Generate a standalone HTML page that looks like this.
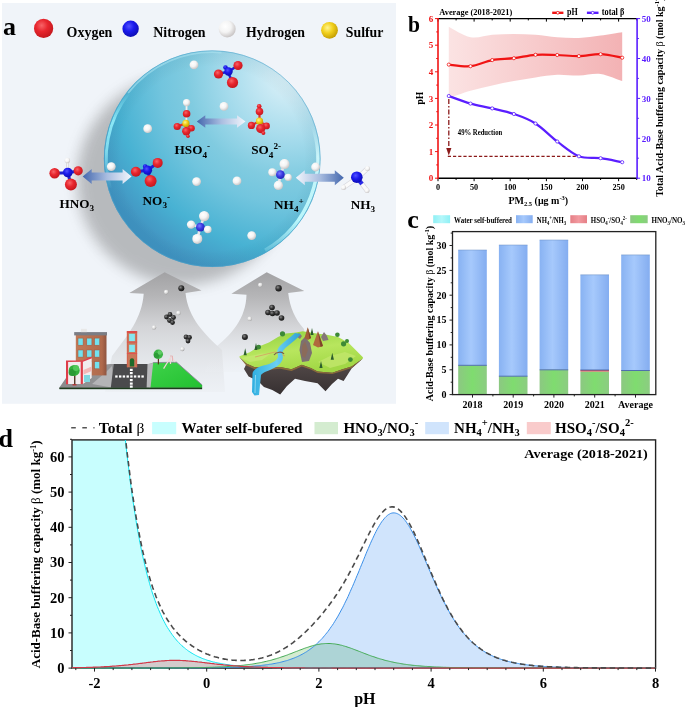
<!DOCTYPE html>
<html><head><meta charset="utf-8"><style>
html,body{margin:0;padding:0;background:#fff;width:685px;height:707px;overflow:hidden}
svg{display:block;will-change:transform}
</style></head><body>
<svg width="685" height="707" viewBox="0 0 685 707">
<defs>
<radialGradient id="gR" cx="0.4" cy="0.35" r="0.7"><stop offset="0" stop-color="#f86468"/><stop offset="0.45" stop-color="#e8262e"/><stop offset="1" stop-color="#c0161c"/></radialGradient>
<radialGradient id="gB" cx="0.4" cy="0.35" r="0.7"><stop offset="0" stop-color="#5252ff"/><stop offset="0.45" stop-color="#1a1aec"/><stop offset="1" stop-color="#0c0cae"/></radialGradient>
<radialGradient id="gB2" cx="0.4" cy="0.35" r="0.7"><stop offset="0" stop-color="#7a7aff"/><stop offset="0.5" stop-color="#3a3ae0"/><stop offset="1" stop-color="#2020b0"/></radialGradient>
<radialGradient id="gW" cx="0.38" cy="0.35" r="0.7"><stop offset="0" stop-color="#ffffff"/><stop offset="0.5" stop-color="#f4f4f4"/><stop offset="1" stop-color="#c4c0c0"/></radialGradient>
<radialGradient id="gY" cx="0.38" cy="0.35" r="0.7"><stop offset="0" stop-color="#fff590"/><stop offset="0.45" stop-color="#f2d11e"/><stop offset="1" stop-color="#c09a00"/></radialGradient>
<radialGradient id="gK" cx="0.38" cy="0.35" r="0.7"><stop offset="0" stop-color="#888"/><stop offset="0.5" stop-color="#333"/><stop offset="1" stop-color="#111"/></radialGradient>
<radialGradient id="gG" cx="0.38" cy="0.35" r="0.7"><stop offset="0" stop-color="#fff"/><stop offset="0.6" stop-color="#d8d8d8"/><stop offset="1" stop-color="#999"/></radialGradient>
<radialGradient id="sph" gradientUnits="userSpaceOnUse" cx="290" cy="75" r="215"><stop offset="0" stop-color="#dcf2f8"/><stop offset="0.1" stop-color="#cdebf5"/><stop offset="0.3" stop-color="#a5dbec"/><stop offset="0.48" stop-color="#80cbe0"/><stop offset="0.6" stop-color="#72c5de"/><stop offset="0.82" stop-color="#48b2d3"/><stop offset="0.97" stop-color="#4398c4"/><stop offset="1" stop-color="#4094c2"/></radialGradient>
<radialGradient id="sphs" cx="0.5" cy="0.5" r="0.5"><stop offset="0.85" stop-color="#000" stop-opacity="0"/><stop offset="1" stop-color="#0a4a70" stop-opacity="0.06"/></radialGradient>
<linearGradient id="arrL" x1="0" x2="1"><stop offset="0" stop-color="#4467ad"/><stop offset="0.5" stop-color="#a9bde0"/><stop offset="1" stop-color="#f2f6fc"/></linearGradient>
<linearGradient id="arrR" x1="0" x2="1"><stop offset="0" stop-color="#f2f6fc"/><stop offset="0.5" stop-color="#a9bde0"/><stop offset="1" stop-color="#4467ad"/></linearGradient>
<linearGradient id="gray" x1="0" y1="0" x2="0" y2="1"><stop offset="0" stop-color="#a2a2a4"/><stop offset="0.2" stop-color="#b5b5b7"/><stop offset="0.45" stop-color="#d3d4d7"/><stop offset="1" stop-color="#eaedf1" stop-opacity="0.5"/></linearGradient>
<linearGradient id="rimL" gradientUnits="userSpaceOnUse" x1="0" y1="92" x2="0" y2="190"><stop offset="0" stop-color="#8eeaf8" stop-opacity="0"/><stop offset="0.3" stop-color="#8eeaf8" stop-opacity="0.95"/><stop offset="0.6" stop-color="#8eeaf8" stop-opacity="0.8"/><stop offset="1" stop-color="#8eeaf8" stop-opacity="0"/></linearGradient>
<linearGradient id="rimR" gradientUnits="userSpaceOnUse" x1="0" y1="125" x2="0" y2="252"><stop offset="0" stop-color="#d2fafd" stop-opacity="0"/><stop offset="0.25" stop-color="#d2fafd" stop-opacity="0.9"/><stop offset="0.75" stop-color="#b8f6fb" stop-opacity="1"/><stop offset="1" stop-color="#b8f6fb" stop-opacity="0.2"/></linearGradient>
<filter id="blur12" x="-50%" y="-50%" width="200%" height="200%"><feGaussianBlur stdDeviation="11"/></filter>
<filter id="blur7" x="-50%" y="-50%" width="200%" height="200%"><feGaussianBlur stdDeviation="7"/></filter>
<linearGradient id="gray2" gradientUnits="userSpaceOnUse" x1="0" y1="272" x2="0" y2="372"><stop offset="0" stop-color="#a2a2a4"/><stop offset="0.24" stop-color="#b5b5b7"/><stop offset="0.54" stop-color="#d3d4d7"/><stop offset="1" stop-color="#eaedf1" stop-opacity="0.3"/></linearGradient>
<filter id="blur6" x="-50%" y="-50%" width="200%" height="200%"><feGaussianBlur stdDeviation="9"/></filter>
<filter id="blur1" x="-20%" y="-20%" width="140%" height="140%"><feGaussianBlur stdDeviation="0.6"/></filter>
<clipPath id="aclip"><rect x="2" y="3" width="394" height="400.8"/></clipPath>
</defs>
<rect x="2" y="3" width="394" height="400.8" fill="#f0f4f9"/>
<g clip-path="url(#aclip)">
<ellipse cx="183" cy="180" rx="106" ry="105" fill="#555" opacity="0.36" filter="url(#blur7)"/>
<path d="M164.6,272.2 L201.5,290.5 L185.5,293.1 C188,318 205,335 222,350 L225,392 L105,392 L112,356 C128,335 142,318 143.7,293.7 L129.3,293.1 Z" fill="url(#gray)"/>
<path d="M266.7,272.2 L304.3,291.1 L288.2,293.1 C290,308 295,319 304,329 L312,372 L205,372 L212,350 C232,335 246,318 246.5,294.7 L231.4,293.7 Z" fill="url(#gray2)"/>
<circle cx="212.2" cy="158.7" r="108.3" fill="url(#sph)"/>
<circle cx="212.2" cy="158.7" r="108.3" fill="url(#sphs)"/>
<path d="M110.3,187.9 A106.0,106.0 0 0 1 128.7,93.4" fill="none" stroke="url(#rimL)" stroke-width="3"/><path d="M128.1,93.0 A106.7,106.7 0 0 1 221.5,52.4" fill="none" stroke="#aee6f3" stroke-width="2" opacity="0.55"/>
<path d="M312.7,126.0 A105.7,105.7 0 0 1 265.1,250.2" fill="none" stroke="url(#rimR)" stroke-width="3.6"/>
<circle cx="212.2" cy="158.7" r="107.9" fill="none" stroke="#4fa6cc" stroke-width="0.8" opacity="0.7"/>
<text x="3.1" y="35" font-family="Liberation Serif" font-weight="bold" font-size="26">a</text>
<circle cx="43.6" cy="28.4" r="9.6" fill="url(#gR)"/>
<text x="66.6" y="36.8" font-family="Liberation Serif" font-weight="bold" font-size="13.7" textLength="45.8" lengthAdjust="spacingAndGlyphs">Oxygen</text>
<circle cx="130.6" cy="28.7" r="8.2" fill="url(#gB)"/>
<text x="153.3" y="36.8" font-family="Liberation Serif" font-weight="bold" font-size="13.7" textLength="52.3" lengthAdjust="spacingAndGlyphs">Nitrogen</text>
<circle cx="227.2" cy="28.9" r="8.5" fill="url(#gW)"/>
<text x="246.1" y="36.8" font-family="Liberation Serif" font-weight="bold" font-size="13.7" textLength="58.9" lengthAdjust="spacingAndGlyphs">Hydrogen</text>
<circle cx="329.5" cy="30.3" r="8.4" fill="url(#gY)"/>
<text x="345.8" y="36.8" font-family="Liberation Serif" font-weight="bold" font-size="13.7" textLength="37.6" lengthAdjust="spacingAndGlyphs">Sulfur</text>
<circle cx="194.0" cy="64.8" r="4.4" fill="url(#gW)"/>
<circle cx="224.0" cy="106.4" r="4.4" fill="url(#gW)"/>
<circle cx="147.7" cy="128.7" r="4.4" fill="url(#gW)"/>
<circle cx="111.3" cy="166.6" r="4.4" fill="url(#gW)"/>
<circle cx="196.6" cy="181.6" r="4.4" fill="url(#gW)"/>
<circle cx="237.0" cy="180.9" r="4.4" fill="url(#gW)"/>
<circle cx="251.7" cy="235.6" r="4.4" fill="url(#gW)"/>
<circle cx="315.6" cy="167.0" r="4.4" fill="url(#gW)"/>
<line x1="228.0" y1="72.0" x2="218.5" y2="73.6" stroke="#2020d0" stroke-width="2.5"/>
<line x1="228.0" y1="72.0" x2="237.8" y2="65.5" stroke="#2020d0" stroke-width="2.5"/>
<line x1="228.0" y1="72.0" x2="232.3" y2="82.0" stroke="#2020d0" stroke-width="2.5"/>
<circle cx="225.5" cy="67.5" r="2.3" fill="url(#gB)"/>
<circle cx="228.5" cy="71.5" r="4.2" fill="url(#gB)"/>
<circle cx="218.5" cy="74.0" r="4.6" fill="url(#gR)"/>
<circle cx="238.0" cy="65.5" r="4.6" fill="url(#gR)"/>
<circle cx="232.5" cy="82.5" r="5.6" fill="url(#gR)"/>
<line x1="186.3" y1="123.4" x2="186.6" y2="103.0" stroke="#f0f0f0" stroke-width="1.8"/>
<line x1="185.9" y1="123.4" x2="177.2" y2="126.5" stroke="#e03030" stroke-width="2.2"/>
<line x1="185.9" y1="123.4" x2="191.5" y2="128.3" stroke="#e03030" stroke-width="2.2"/>
<line x1="185.9" y1="123.4" x2="186.3" y2="131.3" stroke="#e03030" stroke-width="2.2"/>
<circle cx="186.6" cy="102.6" r="3.6" fill="url(#gW)"/>
<circle cx="186.6" cy="113.7" r="3.8" fill="url(#gR)"/>
<circle cx="185.9" cy="123.4" r="3.6" fill="url(#gY)"/>
<circle cx="177.2" cy="126.5" r="3.6" fill="url(#gR)"/>
<circle cx="191.5" cy="128.3" r="3.3" fill="url(#gR)"/>
<circle cx="186.3" cy="131.3" r="4.2" fill="url(#gR)"/>
<circle cx="188.0" cy="136.3" r="1.8" fill="url(#gR)"/>
<line x1="259.5" y1="121.2" x2="259.5" y2="110.0" stroke="#e03030" stroke-width="2.2"/>
<line x1="259.5" y1="121.2" x2="251.4" y2="125.4" stroke="#e03030" stroke-width="2.2"/>
<line x1="259.5" y1="121.2" x2="266.5" y2="125.9" stroke="#e03030" stroke-width="2.2"/>
<line x1="259.5" y1="121.2" x2="260.7" y2="128.6" stroke="#e03030" stroke-width="2.2"/>
<circle cx="259.2" cy="106.3" r="2.3" fill="url(#gR)"/>
<circle cx="259.5" cy="111.5" r="3.8" fill="url(#gR)"/>
<circle cx="259.5" cy="121.2" r="3.6" fill="url(#gY)"/>
<circle cx="251.4" cy="125.4" r="3.6" fill="url(#gR)"/>
<circle cx="266.5" cy="125.9" r="3.4" fill="url(#gR)"/>
<circle cx="260.7" cy="128.6" r="4.6" fill="url(#gR)"/>
<circle cx="263.4" cy="133.0" r="2.0" fill="url(#gR)"/>
<path d="M196.8,121.5 L205.3,115.3 L205.3,118.5 L237.0,118.5 L237.0,115.3 L245.5,121.5 L237.0,127.7 L237.0,124.5 L205.3,124.5 L205.3,127.7 Z" fill="url(#arrL)"/>
<line x1="67.8" y1="172.7" x2="67.4" y2="161.0" stroke="#c8c8cc" stroke-width="2.6"/>
<line x1="67.8" y1="172.7" x2="67.4" y2="161.0" stroke="#f4f4f4" stroke-width="1.6"/>
<circle cx="67.4" cy="160.5" r="2.7" fill="url(#gW)"/>
<line x1="67.8" y1="172.7" x2="54.5" y2="173.3" stroke="#2020d0" stroke-width="3"/>
<line x1="67.8" y1="172.7" x2="78.0" y2="171.0" stroke="#2020d0" stroke-width="3"/>
<line x1="67.8" y1="172.7" x2="70.9" y2="184.6" stroke="#2020d0" stroke-width="3"/>
<circle cx="67.8" cy="172.5" r="4.8" fill="url(#gB)"/>
<circle cx="54.6" cy="173.3" r="5.2" fill="url(#gR)"/>
<circle cx="78.2" cy="170.8" r="4.6" fill="url(#gR)"/>
<circle cx="70.9" cy="184.6" r="6.0" fill="url(#gR)"/>
<path d="M82.7,176.6 L91.7,169.1 L91.7,172.6 L122.6,172.6 L122.6,169.1 L131.6,176.6 L122.6,184.1 L122.6,180.6 L91.7,180.6 L91.7,184.1 Z" fill="url(#arrL)"/>
<line x1="147.5" y1="170.2" x2="135.9" y2="171.7" stroke="#2020d0" stroke-width="3"/>
<line x1="147.5" y1="170.2" x2="157.7" y2="162.9" stroke="#2020d0" stroke-width="3"/>
<line x1="147.5" y1="170.2" x2="150.6" y2="180.9" stroke="#2020d0" stroke-width="3"/>
<circle cx="145.2" cy="166.6" r="2.3" fill="url(#gB)"/>
<circle cx="147.5" cy="170.2" r="4.6" fill="url(#gB)"/>
<circle cx="135.9" cy="171.7" r="5.0" fill="url(#gR)"/>
<circle cx="157.7" cy="162.9" r="5.0" fill="url(#gR)"/>
<circle cx="150.6" cy="180.9" r="6.0" fill="url(#gR)"/>
<line x1="280.4" y1="174.7" x2="284.5" y2="164.1" stroke="#e6e6ea" stroke-width="2.6"/>
<line x1="280.4" y1="174.7" x2="272.3" y2="172.3" stroke="#e6e6ea" stroke-width="2.6"/>
<line x1="280.4" y1="174.7" x2="288.2" y2="177.4" stroke="#e6e6ea" stroke-width="2.6"/>
<line x1="280.4" y1="174.7" x2="278.4" y2="185.4" stroke="#e6e6ea" stroke-width="2.6"/>
<circle cx="284.5" cy="164.1" r="5.0" fill="url(#gW)"/>
<circle cx="272.3" cy="172.3" r="4.0" fill="url(#gW)"/>
<circle cx="280.4" cy="174.7" r="4.4" fill="url(#gB2)"/>
<circle cx="288.2" cy="177.4" r="3.6" fill="url(#gW)"/>
<circle cx="278.4" cy="185.4" r="4.6" fill="url(#gW)"/>
<path d="M295.8,177.8 L304.8,170.3 L304.8,173.8 L334.8,173.8 L334.8,170.3 L343.8,177.8 L334.8,185.3 L334.8,181.8 L304.8,181.8 L304.8,185.3 Z" fill="url(#arrR)"/>
<line x1="357.3" y1="178.0" x2="367.5" y2="168.5" stroke="#d6d6dc" stroke-width="4.8"/>
<line x1="357.3" y1="178.0" x2="367.5" y2="168.5" stroke="#fafafa" stroke-width="3.4"/>
<circle cx="367.5" cy="168.5" r="2.5" fill="url(#gW)"/>
<line x1="357.3" y1="178.0" x2="343.5" y2="187.5" stroke="#d6d6dc" stroke-width="4.8"/>
<line x1="357.3" y1="178.0" x2="343.5" y2="187.5" stroke="#fafafa" stroke-width="3.4"/>
<circle cx="343.5" cy="187.5" r="2.5" fill="url(#gW)"/>
<line x1="357.3" y1="178.0" x2="367.0" y2="190.5" stroke="#d6d6dc" stroke-width="4.8"/>
<line x1="357.3" y1="178.0" x2="367.0" y2="190.5" stroke="#fafafa" stroke-width="3.4"/>
<circle cx="367.0" cy="190.5" r="2.5" fill="url(#gW)"/>
<line x1="357.3" y1="178.0" x2="362.0" y2="184.0" stroke="#2a2ae8" stroke-width="4.2"/>
<circle cx="356.8" cy="177.2" r="5.8" fill="url(#gB)"/>
<line x1="200.4" y1="227.2" x2="204.2" y2="216.1" stroke="#e6e6ea" stroke-width="2.6"/>
<line x1="200.4" y1="227.2" x2="191.1" y2="224.6" stroke="#e6e6ea" stroke-width="2.6"/>
<line x1="200.4" y1="227.2" x2="207.8" y2="229.5" stroke="#e6e6ea" stroke-width="2.6"/>
<line x1="200.4" y1="227.2" x2="197.3" y2="238.9" stroke="#e6e6ea" stroke-width="2.6"/>
<circle cx="204.2" cy="216.1" r="5.2" fill="url(#gW)"/>
<circle cx="191.1" cy="224.6" r="4.2" fill="url(#gW)"/>
<circle cx="200.4" cy="227.2" r="4.4" fill="url(#gB2)"/>
<circle cx="207.8" cy="229.5" r="3.8" fill="url(#gW)"/>
<circle cx="197.3" cy="238.9" r="5.0" fill="url(#gW)"/>
<text x="59.4" y="207.9" font-family="Liberation Serif" font-weight="bold" font-size="13.20" fill="#000"><tspan dy="0.00" font-size="13.20">HNO</tspan><tspan dy="3.30" font-size="9.20">3</tspan></text>
<text x="142.6" y="204.9" font-family="Liberation Serif" font-weight="bold" font-size="13.20" fill="#000"><tspan dy="0.00" font-size="13.20">NO</tspan><tspan dy="3.30" font-size="9.20">3</tspan><tspan dy="-8.50" font-size="9.20">-</tspan></text>
<text x="174.6" y="154.3" font-family="Liberation Serif" font-weight="bold" font-size="13.20" fill="#000"><tspan dy="0.00" font-size="13.20">HSO</tspan><tspan dy="3.30" font-size="9.20">4</tspan><tspan dy="-8.50" font-size="9.20">-</tspan></text>
<text x="251.2" y="154.3" font-family="Liberation Serif" font-weight="bold" font-size="13.20" fill="#000"><tspan dy="0.00" font-size="13.20">SO</tspan><tspan dy="3.30" font-size="9.20">4</tspan><tspan dy="-8.50" font-size="9.20">2-</tspan></text>
<text x="274.1" y="209.0" font-family="Liberation Serif" font-weight="bold" font-size="13.20" fill="#000"><tspan dy="0.00" font-size="13.20">NH</tspan><tspan dy="3.30" font-size="9.20">4</tspan><tspan dy="-8.50" font-size="9.20">+</tspan></text>
<text x="350.8" y="209.0" font-family="Liberation Serif" font-weight="bold" font-size="13.20" fill="#000"><tspan dy="0.00" font-size="13.20">NH</tspan><tspan dy="3.30" font-size="9.20">3</tspan></text>
<circle cx="181.3" cy="288.3" r="3.0" fill="url(#gK)"/>
<circle cx="166.2" cy="292.1" r="2.3" fill="url(#gG)"/>
<circle cx="178.4" cy="313.0" r="2.3" fill="url(#gG)"/>
<circle cx="154.0" cy="327.4" r="2.2" fill="url(#gG)"/>
<circle cx="182.3" cy="349.0" r="2.2" fill="url(#gG)"/>
<circle cx="260.3" cy="285.0" r="2.3" fill="url(#gG)"/>
<circle cx="278.6" cy="288.3" r="3.2" fill="url(#gK)"/>
<circle cx="249.7" cy="318.8" r="2.3" fill="url(#gG)"/>
<circle cx="244.9" cy="337.0" r="3.0" fill="url(#gK)"/>
<circle cx="166.5" cy="317.0" r="2.4" fill="url(#gK)"/>
<circle cx="170.0" cy="314.5" r="2.4" fill="url(#gK)"/>
<circle cx="173.5" cy="317.5" r="2.4" fill="url(#gK)"/>
<circle cx="169.5" cy="320.5" r="2.4" fill="url(#gK)"/>
<circle cx="172.5" cy="322.5" r="2.4" fill="url(#gK)"/>
<circle cx="186.0" cy="337.0" r="2.4" fill="url(#gK)"/>
<circle cx="189.5" cy="337.5" r="2.4" fill="url(#gK)"/>
<circle cx="188.0" cy="341.0" r="2.4" fill="url(#gK)"/>
<circle cx="272.0" cy="307.5" r="2.8" fill="url(#gK)"/>
<circle cx="268.0" cy="312.5" r="2.8" fill="url(#gK)"/>
<circle cx="272.5" cy="313.5" r="2.8" fill="url(#gK)"/>
<circle cx="277.0" cy="313.0" r="2.8" fill="url(#gK)"/>
<circle cx="281.5" cy="318.0" r="2.8" fill="url(#gK)"/>
<defs><linearGradient id="plat" x1="0" x2="1"><stop offset="0" stop-color="#8a8a8c"/><stop offset="1" stop-color="#a8a8aa"/></linearGradient><linearGradient id="grass" x1="0" y1="0" x2="1" y2="1"><stop offset="0" stop-color="#3fd24a"/><stop offset="1" stop-color="#22c030"/></linearGradient><linearGradient id="bld" x1="0" x2="1"><stop offset="0" stop-color="#c17a58"/><stop offset="0.85" stop-color="#b06a4c"/><stop offset="1" stop-color="#8e5440"/></linearGradient></defs>
<path d="M59.4,387.6 L66,378 L75,368 L110,364 L113.8,364.1 L148.8,364.1 L153.2,362.5 L176.5,362.2 L202.1,384.9 L202.1,389 L59.4,389 Z" fill="url(#plat)"/>
<path d="M92,384 L106,372 L112,366 L113,387.8 Z" fill="#b4b4b6"/>
<path d="M110.8,387.8 L113.8,364.1 L148.8,364.1 L148.8,387.8 Z" fill="#4a4a4c"/>
<path d="M146.6,387.8 L147.5,364.1 L154.6,363 L154.6,387.8 Z" fill="#b9b9bc"/>
<path d="M150.5,387.8 L153.2,362.6 L176.5,362.2 L202.1,384.9 L202.1,387.8 Z" fill="url(#grass)"/>
<path d="M153.2,362.6 L176.5,362.2 L202.1,384.9" fill="none" stroke="#8c8c9a" stroke-width="0.9"/>
<rect x="59.4" y="387.6" width="142.7" height="1.6" fill="#1d3a1d"/>
<rect x="115.2" y="375.4" width="2.4" height="2.2" fill="#fff"/>
<rect x="119.0" y="375.4" width="2.4" height="2.2" fill="#fff"/>
<rect x="122.7" y="375.4" width="2.4" height="2.2" fill="#fff"/>
<rect x="126.5" y="375.4" width="2.4" height="2.2" fill="#fff"/>
<rect x="130.2" y="375.4" width="2.4" height="2.2" fill="#fff"/>
<rect x="133.9" y="375.4" width="2.4" height="2.2" fill="#fff"/>
<rect x="137.7" y="375.4" width="2.4" height="2.2" fill="#fff"/>
<rect x="141.4" y="375.4" width="2.4" height="2.2" fill="#fff"/>
<rect x="129.9" y="368.8" width="2.8" height="2.2" fill="#fff"/>
<rect x="129.9" y="372.0" width="2.8" height="2.2" fill="#fff"/>
<rect x="129.9" y="379.0" width="2.8" height="2.2" fill="#fff"/>
<rect x="129.9" y="382.5" width="2.8" height="2.2" fill="#fff"/>
<rect x="129.9" y="385.5" width="2.8" height="2.2" fill="#fff"/>
<rect x="75.8" y="335" width="30.7" height="40.4" fill="url(#bld)"/>
<rect x="74.2" y="332.1" width="32.8" height="3.3" fill="#7b7d84"/>
<rect x="81" y="328.8" width="5.8" height="3.3" fill="#e8e8e8"/>
<rect x="78.0" y="338.1" width="5.1" height="7.1" fill="#72e2ef" stroke="#a05a40" stroke-width="0.5"/>
<rect x="86.8" y="338.1" width="5.1" height="7.1" fill="#72e2ef" stroke="#a05a40" stroke-width="0.5"/>
<rect x="94.6" y="338.1" width="5.1" height="7.1" fill="#72e2ef" stroke="#a05a40" stroke-width="0.5"/>
<rect x="78.0" y="350.0" width="5.1" height="7.1" fill="#72e2ef" stroke="#a05a40" stroke-width="0.5"/>
<rect x="86.8" y="350.0" width="5.1" height="7.1" fill="#72e2ef" stroke="#a05a40" stroke-width="0.5"/>
<rect x="94.6" y="350.0" width="5.1" height="7.1" fill="#72e2ef" stroke="#a05a40" stroke-width="0.5"/>
<rect x="78.0" y="361.7" width="5.1" height="7.1" fill="#72e2ef" stroke="#a05a40" stroke-width="0.5"/>
<rect x="86.8" y="361.7" width="5.1" height="7.1" fill="#72e2ef" stroke="#a05a40" stroke-width="0.5"/>
<rect x="94.6" y="361.7" width="5.1" height="7.1" fill="#72e2ef" stroke="#a05a40" stroke-width="0.5"/>
<path d="M66,361.5 L82.5,361.1 L91.7,357.5 L91.7,378 L82.9,384.1 L66,384.1 Z" fill="#f1ecee"/>
<rect x="66" y="361.3" width="2.1" height="23" fill="#de3d4a"/><rect x="80.7" y="361.1" width="2.2" height="23" fill="#de3d4a"/>
<path d="M66,361.3 L82.9,361.1 L91.7,357.5" fill="none" stroke="#de3d4a" stroke-width="1.4"/>
<path d="M83.5,370 L91.7,366.5 L91.7,371 L83.5,374.5 Z" fill="#f2b8b8"/>
<rect x="84" y="375" width="6" height="7" fill="#7fd8e0"/>
<rect x="74.1" y="373" width="1.3" height="11.7" fill="#4a2a14"/>
<circle cx="74.2" cy="370.4" r="5.5" fill="#34b03c"/><circle cx="72.2" cy="372.5" r="3.6" fill="#2a9a34"/><circle cx="76" cy="368" r="3" fill="#52c85a"/>
<rect x="72.5" y="384.2" width="4" height="1.2" fill="#c03030"/>
<rect x="126.9" y="331.1" width="10.2" height="36.2" fill="#c9785a"/>
<rect x="126.9" y="331.1" width="10.2" height="1.8" fill="#e04848"/><rect x="126.9" y="341.6" width="10.2" height="1" fill="#e05050"/><rect x="126.9" y="353" width="10.2" height="1" fill="#e05050"/>
<rect x="126.9" y="331.1" width="0.7" height="36.2" fill="#d85a4a"/><rect x="136.4" y="331.1" width="0.7" height="36.2" fill="#d85a4a"/>
<rect x="129.1" y="333.8" width="5.8" height="7.3" fill="#86e6ee"/><rect x="129.1" y="344.7" width="5.8" height="7.3" fill="#86e6ee"/>
<path d="M129.8,366.6 L129.8,360.5 A2.2,2.2 0 0 1 134.2,360.5 L134.2,366.6 Z" fill="#1d6a2a"/>
<rect x="157.8" y="357" width="1.2" height="7.4" fill="#5a3418"/>
<circle cx="158.3" cy="354.2" r="4.7" fill="#3cb545"/><circle cx="156.6" cy="355.6" r="2.8" fill="#2c9c36"/><circle cx="159.8" cy="352.5" r="2.2" fill="#60cc66"/>
<path d="M163.6,368.6 L170.5,357.5 L172.2,357.5 M170.5,357.5 L170.5,364 M172.2,357.5 L175,362" fill="none" stroke="#efd6d6" stroke-width="1.2"/>
<path d="M170,356 L172.5,356 L172.5,361" fill="none" stroke="#e6a8a8" stroke-width="0.8"/>
<defs><linearGradient id="rock" x1="0" y1="0" x2="0" y2="1"><stop offset="0" stop-color="#574d4c"/><stop offset="1" stop-color="#363031"/></linearGradient><linearGradient id="isl" x1="0" y1="0" x2="0.4" y2="1"><stop offset="0" stop-color="#8ed03c"/><stop offset="0.55" stop-color="#b8e65e"/><stop offset="1" stop-color="#a2d846"/></linearGradient><linearGradient id="wf" x1="0" x2="1"><stop offset="0" stop-color="#30aee0"/><stop offset="0.5" stop-color="#6ad0f2"/><stop offset="1" stop-color="#2ea0d4"/></linearGradient></defs>
<path d="M239.5,357.3 L246.3,364.1 L244,369 L248.6,376.5 L258,381 L264,387 L272.3,390.1 L280.2,394.6 L287,386 L295,378.8 L305,381 L317.6,383.3 L325.5,391.3 L332,384 L338,378.8 L343.6,381.1 L351.6,368.6 L362.9,358.5 L351.6,365 L342.5,368 L332.3,371.5 L317.6,370.5 L310.8,367 L301.8,364 L291.5,368 L280.2,366 L266.7,367 L254.2,366 Z" fill="url(#rock)"/>
<path d="M239.5,356.2 L249.7,352.2 L257.6,347.1 L268.9,342.6 L278,337 L285.9,333.6 L296,332.4 L302.8,331.3 L313,333 L326.7,334.7 L338,337 L348.2,342.6 L362.9,357.3 L362.9,358.5 L351.6,366.5 L342.5,369.3 L332.3,372.7 L317.6,371.5 L310.8,368.1 L301.8,364.7 L291.5,369.3 L280.2,367 L266.7,368.1 L254.2,367 L246.3,363.6 L239.5,357.3 Z" fill="url(#isl)"/>
<path d="M239.5,357.3 L246.3,363.6 L254.2,367 L266.7,368.1 L280.2,367 L291.5,369.3 L301.8,364.7 L310.8,368.1 L317.6,371.5 L332.3,372.7 L342.5,369.3 L351.6,366.5 L362.9,358.5 L351.6,368 L342.5,371 L332.3,374 L317.6,373 L310.8,369.5 L301.8,366.5 L291.5,371 L280.2,368.8 L266.7,370 L254.2,369 L246.3,365.5 Z" fill="#8a6a3a"/>
<path d="M241,358 L250,356 L262,353.5 L270,354 L262,360 L250,362 Z" fill="#c4e870" opacity="0.8"/>
<path d="M318,362 L330,356 L345,352 L356,356 L345,364 L330,368 Z" fill="#c2e66c" opacity="0.8"/>
<path d="M255,357 L275,352 L285,356" fill="none" stroke="#d4a060" stroke-width="1" opacity="0.8"/>
<path d="M299.5,350 L301,341 L305,337 L310,343 L312,353 L309,361 L302,362 Z" fill="#7d7070"/>
<path d="M302,346 L305,341 L308,350 L305,358 L302,356 Z" fill="#8e6a55" opacity="0.8"/>
<path d="M304.5,338 L307.7,327.2 L311,338 L308,340 Z" fill="#a35f38"/>
<path d="M307.7,327.2 L311,338 L309.5,339 Z" fill="#7a4026"/>
<path d="M313,345 L317.9,331.2 L323,346 L318,347.5 Z" fill="#b06a3e"/>
<path d="M317.9,331.2 L323,346 L320.5,347 Z" fill="#80452a"/>
<path d="M321,337 L324,332 L327,336 L328.5,340 L323,341 Z" fill="#857678"/>
<path d="M296,336 L299,333 L302,336 L300,339 Z" fill="#857678"/>
<path d="M295,333 C290,338 283,342 279,347 C275,352 280,355 277,359 C273,364 264,365 259,367 C255,369 252.5,371 252.5,374 L252,392 L254.5,395.5 L259,395 L261,375 C263,372 270,370.5 275,367.5 C281,364 284,359 282.5,355 C281,352 285,348 289,345 C294,341 298.5,337 301,334 Z" fill="url(#wf)"/>
<path d="M255.5,375 L255,393" stroke="#b8ecfa" stroke-width="0.8" opacity="0.8"/>
<path d="M274,355 C276,352 282,351 284,354" fill="none" stroke="#7a5a50" stroke-width="1.2"/>
<circle cx="282.5" cy="333.8" r="2.6" fill="#3d8a36"/>
<circle cx="258.7" cy="347.1" r="2.4" fill="#3d8a36"/>
<circle cx="337.4" cy="334.7" r="2.3" fill="#3d8a36"/>
<circle cx="343.6" cy="343.8" r="2.6" fill="#3d8a36"/>
<circle cx="350.4" cy="359.6" r="2.4" fill="#3d8a36"/>
<circle cx="347.0" cy="341.0" r="2.0" fill="#3d8a36"/>
<path d="M245.2,348.3 l-1.6,7 l3.2,0 Z" fill="#2c5e2c"/>
<path d="M332.3,352.8 l-1.6,7 l3.2,0 Z" fill="#2c5e2c"/>
<path d="M312.0,327.9 l-1.6,7 l3.2,0 Z" fill="#2c5e2c"/>
<path d="M321.0,361.0 l-1.6,7 l3.2,0 Z" fill="#2c5e2c"/>
<path d="M256.0,343.0 l-1.6,7 l3.2,0 Z" fill="#2c5e2c"/>
</g>
<defs><linearGradient id="bandg" x1="0" x2="1" y1="0" y2="0"><stop offset="0" stop-color="#fbe3e3"/><stop offset="1" stop-color="#f3b2b4"/></linearGradient></defs>
<path d="M448.8,26.8 C452.4,28.6 463.3,35.9 470.5,37.2 C477.7,38.6 485.0,35.4 492.2,34.8 C499.4,34.3 506.6,34.0 513.9,34.0 C521.1,34.0 528.3,34.3 535.5,34.8 C542.8,35.4 550.0,36.7 557.2,37.2 C564.4,37.8 571.7,38.3 578.9,38.0 C586.1,37.8 593.3,36.6 600.6,35.6 C607.8,34.6 618.6,32.7 622.2,32.2 L622.2,81.1 C618.6,79.9 607.8,74.9 600.6,73.9 C593.3,73.0 586.1,75.4 578.9,75.5 C571.7,75.7 564.4,74.4 557.2,74.7 C550.0,75.0 542.8,76.3 535.5,77.4 C528.3,78.4 521.1,79.8 513.9,81.1 C506.6,82.4 499.4,83.8 492.2,85.4 C485.0,87.0 477.7,88.6 470.5,90.7 C463.3,92.8 452.4,96.7 448.8,97.9 Z" fill="url(#bandg)"/>
<line x1="448.8" y1="99.0" x2="448.8" y2="150" stroke="#8b1a1a" stroke-width="1.3" stroke-dasharray="5,2,1.5,2"/>
<path d="M448.8,155.5 L446.2,148 L451.4,148 Z" fill="#8b1a1a"/>
<line x1="447.8" y1="156.3" x2="578.9" y2="156.3" stroke="#8b1a1a" stroke-width="1.3" stroke-dasharray="3.2,2"/>
<text x="457.8" y="134.8" font-family="Liberation Serif" font-weight="bold" font-size="7.4" text-anchor="start" fill="#000" textLength="44.4" lengthAdjust="spacingAndGlyphs" >49% Reduction</text>
<path d="M448.8,64.6 C452.4,64.9 463.3,67.0 470.5,66.2 C477.7,65.5 485.0,61.4 492.2,60.1 C499.4,58.8 506.6,59.1 513.9,58.2 C521.1,57.3 528.3,55.3 535.5,54.8 C542.8,54.2 550.0,54.8 557.2,55.0 C564.4,55.3 571.7,56.2 578.9,56.1 C586.1,56.0 593.3,54.0 600.6,54.2 C607.8,54.5 618.6,57.1 622.2,57.7" fill="none" stroke="#f01414" stroke-width="2.2"/>
<path d="M448.8,96.0 C452.4,97.3 463.3,101.5 470.5,103.6 C477.7,105.6 485.0,106.6 492.2,108.4 C499.4,110.1 506.6,111.4 513.9,114.0 C521.1,116.5 528.3,118.9 535.5,123.5 C542.8,128.1 550.0,136.0 557.2,141.5 C564.4,146.9 571.7,153.5 578.9,156.3 C586.1,159.0 593.3,157.3 600.6,158.2 C607.8,159.2 618.6,161.6 622.2,162.2" fill="none" stroke="#5a1eff" stroke-width="2.2"/>
<circle cx="448.8" cy="64.6" r="1.6" fill="#fff" stroke="#f01414" stroke-width="0.8"/>
<circle cx="470.5" cy="66.2" r="1.6" fill="#fff" stroke="#f01414" stroke-width="0.8"/>
<circle cx="492.2" cy="60.1" r="1.6" fill="#fff" stroke="#f01414" stroke-width="0.8"/>
<circle cx="513.9" cy="58.2" r="1.6" fill="#fff" stroke="#f01414" stroke-width="0.8"/>
<circle cx="535.5" cy="54.8" r="1.6" fill="#fff" stroke="#f01414" stroke-width="0.8"/>
<circle cx="557.2" cy="55.0" r="1.6" fill="#fff" stroke="#f01414" stroke-width="0.8"/>
<circle cx="578.9" cy="56.1" r="1.6" fill="#fff" stroke="#f01414" stroke-width="0.8"/>
<circle cx="600.6" cy="54.2" r="1.6" fill="#fff" stroke="#f01414" stroke-width="0.8"/>
<circle cx="622.2" cy="57.7" r="1.6" fill="#fff" stroke="#f01414" stroke-width="0.8"/>
<circle cx="448.8" cy="96.0" r="1.6" fill="#fff" stroke="#5a1eff" stroke-width="0.8"/>
<circle cx="470.5" cy="103.6" r="1.6" fill="#fff" stroke="#5a1eff" stroke-width="0.8"/>
<circle cx="492.2" cy="108.4" r="1.6" fill="#fff" stroke="#5a1eff" stroke-width="0.8"/>
<circle cx="513.9" cy="114.0" r="1.6" fill="#fff" stroke="#5a1eff" stroke-width="0.8"/>
<circle cx="535.5" cy="123.5" r="1.6" fill="#fff" stroke="#5a1eff" stroke-width="0.8"/>
<circle cx="557.2" cy="141.5" r="1.6" fill="#fff" stroke="#5a1eff" stroke-width="0.8"/>
<circle cx="578.9" cy="156.3" r="1.6" fill="#fff" stroke="#5a1eff" stroke-width="0.8"/>
<circle cx="600.6" cy="158.2" r="1.6" fill="#fff" stroke="#5a1eff" stroke-width="0.8"/>
<circle cx="622.2" cy="162.2" r="1.6" fill="#fff" stroke="#5a1eff" stroke-width="0.8"/>
<line x1="438.0" y1="18.6" x2="637.1" y2="18.6" stroke="#000" stroke-width="1.4"/>
<line x1="438.0" y1="178.2" x2="637.1" y2="178.2" stroke="#000" stroke-width="1.4"/>
<line x1="438.0" y1="18.6" x2="438.0" y2="21.6" stroke="#000" stroke-width="1"/>
<line x1="438.0" y1="178.2" x2="438.0" y2="181.2" stroke="#000" stroke-width="1"/>
<text x="438.0" y="190.3" font-family="Liberation Serif" font-weight="bold" font-size="8.2" text-anchor="middle" fill="#000" >0</text>
<line x1="456.1" y1="18.6" x2="456.1" y2="20.4" stroke="#000" stroke-width="1"/>
<line x1="456.1" y1="178.2" x2="456.1" y2="180.0" stroke="#000" stroke-width="1"/>
<line x1="474.1" y1="18.6" x2="474.1" y2="21.6" stroke="#000" stroke-width="1"/>
<line x1="474.1" y1="178.2" x2="474.1" y2="181.2" stroke="#000" stroke-width="1"/>
<text x="474.1" y="190.3" font-family="Liberation Serif" font-weight="bold" font-size="8.2" text-anchor="middle" fill="#000" >50</text>
<line x1="492.2" y1="18.6" x2="492.2" y2="20.4" stroke="#000" stroke-width="1"/>
<line x1="492.2" y1="178.2" x2="492.2" y2="180.0" stroke="#000" stroke-width="1"/>
<line x1="510.2" y1="18.6" x2="510.2" y2="21.6" stroke="#000" stroke-width="1"/>
<line x1="510.2" y1="178.2" x2="510.2" y2="181.2" stroke="#000" stroke-width="1"/>
<text x="510.2" y="190.3" font-family="Liberation Serif" font-weight="bold" font-size="8.2" text-anchor="middle" fill="#000" >100</text>
<line x1="528.3" y1="18.6" x2="528.3" y2="20.4" stroke="#000" stroke-width="1"/>
<line x1="528.3" y1="178.2" x2="528.3" y2="180.0" stroke="#000" stroke-width="1"/>
<line x1="546.4" y1="18.6" x2="546.4" y2="21.6" stroke="#000" stroke-width="1"/>
<line x1="546.4" y1="178.2" x2="546.4" y2="181.2" stroke="#000" stroke-width="1"/>
<text x="546.4" y="190.3" font-family="Liberation Serif" font-weight="bold" font-size="8.2" text-anchor="middle" fill="#000" >150</text>
<line x1="564.4" y1="18.6" x2="564.4" y2="20.4" stroke="#000" stroke-width="1"/>
<line x1="564.4" y1="178.2" x2="564.4" y2="180.0" stroke="#000" stroke-width="1"/>
<line x1="582.5" y1="18.6" x2="582.5" y2="21.6" stroke="#000" stroke-width="1"/>
<line x1="582.5" y1="178.2" x2="582.5" y2="181.2" stroke="#000" stroke-width="1"/>
<text x="582.5" y="190.3" font-family="Liberation Serif" font-weight="bold" font-size="8.2" text-anchor="middle" fill="#000" >200</text>
<line x1="600.6" y1="18.6" x2="600.6" y2="20.4" stroke="#000" stroke-width="1"/>
<line x1="600.6" y1="178.2" x2="600.6" y2="180.0" stroke="#000" stroke-width="1"/>
<line x1="618.6" y1="18.6" x2="618.6" y2="21.6" stroke="#000" stroke-width="1"/>
<line x1="618.6" y1="178.2" x2="618.6" y2="181.2" stroke="#000" stroke-width="1"/>
<text x="618.6" y="190.3" font-family="Liberation Serif" font-weight="bold" font-size="8.2" text-anchor="middle" fill="#000" >250</text>
<line x1="636.7" y1="18.6" x2="636.7" y2="20.4" stroke="#000" stroke-width="1"/>
<line x1="636.7" y1="178.2" x2="636.7" y2="180.0" stroke="#000" stroke-width="1"/>
<line x1="438.0" y1="17.9" x2="438.0" y2="178.9" stroke="#f01414" stroke-width="1.6"/>
<line x1="435.0" y1="178.2" x2="438.0" y2="178.2" stroke="#f01414" stroke-width="1"/>
<text x="433.2" y="181.4" font-family="Liberation Serif" font-weight="bold" font-size="9" text-anchor="end" fill="#f01414" >0</text>
<line x1="436.2" y1="164.9" x2="438.0" y2="164.9" stroke="#f01414" stroke-width="1"/>
<line x1="435.0" y1="151.6" x2="438.0" y2="151.6" stroke="#f01414" stroke-width="1"/>
<text x="433.2" y="154.8" font-family="Liberation Serif" font-weight="bold" font-size="9" text-anchor="end" fill="#f01414" >1</text>
<line x1="436.2" y1="138.3" x2="438.0" y2="138.3" stroke="#f01414" stroke-width="1"/>
<line x1="435.0" y1="125.0" x2="438.0" y2="125.0" stroke="#f01414" stroke-width="1"/>
<text x="433.2" y="128.2" font-family="Liberation Serif" font-weight="bold" font-size="9" text-anchor="end" fill="#f01414" >2</text>
<line x1="436.2" y1="111.7" x2="438.0" y2="111.7" stroke="#f01414" stroke-width="1"/>
<line x1="435.0" y1="98.4" x2="438.0" y2="98.4" stroke="#f01414" stroke-width="1"/>
<text x="433.2" y="101.6" font-family="Liberation Serif" font-weight="bold" font-size="9" text-anchor="end" fill="#f01414" >3</text>
<line x1="436.2" y1="85.1" x2="438.0" y2="85.1" stroke="#f01414" stroke-width="1"/>
<line x1="435.0" y1="71.8" x2="438.0" y2="71.8" stroke="#f01414" stroke-width="1"/>
<text x="433.2" y="75.0" font-family="Liberation Serif" font-weight="bold" font-size="9" text-anchor="end" fill="#f01414" >4</text>
<line x1="436.2" y1="58.5" x2="438.0" y2="58.5" stroke="#f01414" stroke-width="1"/>
<line x1="435.0" y1="45.2" x2="438.0" y2="45.2" stroke="#f01414" stroke-width="1"/>
<text x="433.2" y="48.4" font-family="Liberation Serif" font-weight="bold" font-size="9" text-anchor="end" fill="#f01414" >5</text>
<line x1="436.2" y1="31.9" x2="438.0" y2="31.9" stroke="#f01414" stroke-width="1"/>
<line x1="435.0" y1="18.6" x2="438.0" y2="18.6" stroke="#f01414" stroke-width="1"/>
<text x="433.2" y="21.8" font-family="Liberation Serif" font-weight="bold" font-size="9" text-anchor="end" fill="#f01414" >6</text>
<line x1="637.1" y1="17.9" x2="637.1" y2="178.9" stroke="#5a1eff" stroke-width="1.6"/>
<line x1="637.1" y1="178.2" x2="640.1" y2="178.2" stroke="#5a1eff" stroke-width="1"/>
<text x="641.8" y="181.4" font-family="Liberation Serif" font-weight="bold" font-size="9" text-anchor="start" fill="#5a1eff" >10</text>
<line x1="637.1" y1="158.2" x2="638.9" y2="158.2" stroke="#5a1eff" stroke-width="1"/>
<line x1="637.1" y1="138.3" x2="640.1" y2="138.3" stroke="#5a1eff" stroke-width="1"/>
<text x="641.8" y="141.5" font-family="Liberation Serif" font-weight="bold" font-size="9" text-anchor="start" fill="#5a1eff" >20</text>
<line x1="637.1" y1="118.3" x2="638.9" y2="118.3" stroke="#5a1eff" stroke-width="1"/>
<line x1="637.1" y1="98.4" x2="640.1" y2="98.4" stroke="#5a1eff" stroke-width="1"/>
<text x="641.8" y="101.6" font-family="Liberation Serif" font-weight="bold" font-size="9" text-anchor="start" fill="#5a1eff" >30</text>
<line x1="637.1" y1="78.4" x2="638.9" y2="78.4" stroke="#5a1eff" stroke-width="1"/>
<line x1="637.1" y1="58.5" x2="640.1" y2="58.5" stroke="#5a1eff" stroke-width="1"/>
<text x="641.8" y="61.7" font-family="Liberation Serif" font-weight="bold" font-size="9" text-anchor="start" fill="#5a1eff" >40</text>
<line x1="637.1" y1="38.5" x2="638.9" y2="38.5" stroke="#5a1eff" stroke-width="1"/>
<line x1="637.1" y1="18.6" x2="640.1" y2="18.6" stroke="#5a1eff" stroke-width="1"/>
<text x="641.8" y="21.8" font-family="Liberation Serif" font-weight="bold" font-size="9" text-anchor="start" fill="#5a1eff" >50</text>
<text x="439.3" y="14.9" font-family="Liberation Serif" font-weight="bold" font-size="9" text-anchor="start" fill="#000" textLength="72.9" lengthAdjust="spacingAndGlyphs" >Average (2018-2021)</text>
<line x1="552.2" y1="12.8" x2="563.4" y2="12.8" stroke="#f01414" stroke-width="2.4"/><circle cx="557.8" cy="12.8" r="1.4" fill="#fff" stroke="#f01414" stroke-width="0.8"/>
<text x="567.0" y="14.9" font-family="Liberation Serif" font-weight="bold" font-size="9.5" text-anchor="start" fill="#000" textLength="10.7" lengthAdjust="spacingAndGlyphs" >pH</text>
<line x1="586.9" y1="12.8" x2="598.5" y2="12.8" stroke="#5a1eff" stroke-width="2.4"/><circle cx="592.7" cy="12.8" r="1.4" fill="#fff" stroke="#5a1eff" stroke-width="0.8"/>
<text x="601.8" y="14.9" font-family="Liberation Serif" font-weight="bold" font-size="9.5" text-anchor="start" fill="#000" textLength="22.5" lengthAdjust="spacingAndGlyphs" >total β</text>
<text x="408.1" y="31.9" font-family="Liberation Serif" font-weight="bold" font-size="24" text-anchor="start" fill="#000" textLength="12.0" lengthAdjust="spacingAndGlyphs" >b</text>
<text transform="translate(423.1,98.2) rotate(-90)" x="0" y="0" font-family="Liberation Serif" font-weight="bold" font-size="9.5" text-anchor="middle">pH</text>
<text transform="translate(508.4,203.7)" font-family="Liberation Serif" font-weight="bold" font-size="10"><tspan>PM</tspan><tspan font-size="6.5" dy="2.5">2.5</tspan><tspan dy="-2.5"> (μg m</tspan><tspan font-size="6.5" dy="-3.5">-3</tspan><tspan dy="3.5">)</tspan></text>
<text transform="translate(662.5,97.2) rotate(-90)" font-family="Liberation Serif" font-weight="bold" font-size="10" text-anchor="middle">Total Acid-Base buffering capacity <tspan font-weight="normal">β</tspan> (mol kg<tspan font-size="6.5" dy="-3.5">-1</tspan><tspan dy="3.5">)</tspan></text>
<defs><linearGradient id="cbl" x1="0" x2="1"><stop offset="0" stop-color="#88b2f2"/><stop offset="0.45" stop-color="#a6c9fc"/><stop offset="1" stop-color="#84adf0"/></linearGradient><linearGradient id="cgr" x1="0" x2="1"><stop offset="0" stop-color="#8cc882"/><stop offset="0.5" stop-color="#7fdc6f"/><stop offset="1" stop-color="#8ccc82"/></linearGradient><linearGradient id="crd" x1="0" x2="1"><stop offset="0" stop-color="#e57f86"/><stop offset="0.5" stop-color="#f29aa0"/><stop offset="1" stop-color="#e57f86"/></linearGradient><linearGradient id="ccy" x1="0" x2="1"><stop offset="0" stop-color="#8ff0f5"/><stop offset="0.5" stop-color="#b4f7fa"/><stop offset="1" stop-color="#8ff0f5"/></linearGradient></defs>
<rect x="458.2" y="250.0" width="28.6" height="115.3" fill="url(#cbl)"/>
<rect x="458.2" y="365.3" width="28.6" height="29.3" fill="url(#cgr)"/>
<line x1="458.2" y1="365.3" x2="486.8" y2="365.3" stroke="#4f6fae" stroke-width="1"/>
<line x1="458.2" y1="250.0" x2="486.8" y2="250.0" stroke="#6a8fc0" stroke-width="0.5"/>
<rect x="498.9" y="245.0" width="28.6" height="131.2" fill="url(#cbl)"/>
<rect x="498.9" y="376.2" width="28.6" height="18.4" fill="url(#cgr)"/>
<line x1="498.9" y1="376.2" x2="527.5" y2="376.2" stroke="#4f6fae" stroke-width="1"/>
<line x1="498.9" y1="245.0" x2="527.5" y2="245.0" stroke="#6a8fc0" stroke-width="0.5"/>
<rect x="539.6" y="240.0" width="28.6" height="129.7" fill="url(#cbl)"/>
<rect x="539.6" y="369.8" width="28.6" height="24.9" fill="url(#cgr)"/>
<line x1="539.6" y1="369.8" x2="568.2" y2="369.8" stroke="#4f6fae" stroke-width="1"/>
<line x1="539.6" y1="240.0" x2="568.2" y2="240.0" stroke="#6a8fc0" stroke-width="0.5"/>
<rect x="580.4" y="274.8" width="28.6" height="95.2" fill="url(#cbl)"/>
<rect x="580.4" y="371.5" width="28.6" height="23.1" fill="url(#cgr)"/>
<rect x="580.4" y="370.0" width="28.6" height="1.5" fill="#e2474f"/>
<line x1="580.4" y1="370.0" x2="609.0" y2="370.0" stroke="#4f6fae" stroke-width="1"/>
<line x1="580.4" y1="274.8" x2="609.0" y2="274.8" stroke="#6a8fc0" stroke-width="0.5"/>
<rect x="621.2" y="254.9" width="28.6" height="115.6" fill="url(#cbl)"/>
<rect x="621.2" y="371.0" width="28.6" height="23.6" fill="url(#cgr)"/>
<rect x="621.2" y="370.5" width="28.6" height="0.5" fill="#e2474f"/>
<line x1="621.2" y1="370.5" x2="649.8" y2="370.5" stroke="#4f6fae" stroke-width="1"/>
<line x1="621.2" y1="254.9" x2="649.8" y2="254.9" stroke="#6a8fc0" stroke-width="0.5"/>
<rect x="452.5" y="231.6" width="203.3" height="163.0" fill="none" stroke="#222" stroke-width="1.3"/>
<line x1="449.5" y1="394.6" x2="452.5" y2="394.6" stroke="#222" stroke-width="1"/>
<text x="446.5" y="398.0" font-family="Liberation Serif" font-weight="bold" font-size="10" text-anchor="end" fill="#000" >0</text>
<line x1="449.5" y1="369.8" x2="452.5" y2="369.8" stroke="#222" stroke-width="1"/>
<text x="446.5" y="373.1" font-family="Liberation Serif" font-weight="bold" font-size="10" text-anchor="end" fill="#000" >5</text>
<line x1="449.5" y1="344.9" x2="452.5" y2="344.9" stroke="#222" stroke-width="1"/>
<text x="446.5" y="348.3" font-family="Liberation Serif" font-weight="bold" font-size="10" text-anchor="end" fill="#000" >10</text>
<line x1="449.5" y1="320.1" x2="452.5" y2="320.1" stroke="#222" stroke-width="1"/>
<text x="446.5" y="323.4" font-family="Liberation Serif" font-weight="bold" font-size="10" text-anchor="end" fill="#000" >15</text>
<line x1="449.5" y1="295.2" x2="452.5" y2="295.2" stroke="#222" stroke-width="1"/>
<text x="446.5" y="298.6" font-family="Liberation Serif" font-weight="bold" font-size="10" text-anchor="end" fill="#000" >20</text>
<line x1="449.5" y1="270.4" x2="452.5" y2="270.4" stroke="#222" stroke-width="1"/>
<text x="446.5" y="273.8" font-family="Liberation Serif" font-weight="bold" font-size="10" text-anchor="end" fill="#000" >25</text>
<line x1="449.5" y1="245.5" x2="452.5" y2="245.5" stroke="#222" stroke-width="1"/>
<text x="446.5" y="248.9" font-family="Liberation Serif" font-weight="bold" font-size="10" text-anchor="end" fill="#000" >30</text>
<line x1="450.7" y1="382.2" x2="452.5" y2="382.2" stroke="#222" stroke-width="1"/>
<line x1="450.7" y1="357.3" x2="452.5" y2="357.3" stroke="#222" stroke-width="1"/>
<line x1="450.7" y1="332.5" x2="452.5" y2="332.5" stroke="#222" stroke-width="1"/>
<line x1="450.7" y1="307.6" x2="452.5" y2="307.6" stroke="#222" stroke-width="1"/>
<line x1="450.7" y1="282.8" x2="452.5" y2="282.8" stroke="#222" stroke-width="1"/>
<line x1="450.7" y1="257.9" x2="452.5" y2="257.9" stroke="#222" stroke-width="1"/>
<line x1="450.7" y1="233.1" x2="452.5" y2="233.1" stroke="#222" stroke-width="1"/>
<line x1="472.5" y1="394.6" x2="472.5" y2="397.6" stroke="#222" stroke-width="1"/>
<text x="472.5" y="408.2" font-family="Liberation Serif" font-weight="bold" font-size="10" text-anchor="middle" fill="#000" >2018</text>
<line x1="492.9" y1="394.6" x2="492.9" y2="396.4" stroke="#222" stroke-width="1"/>
<line x1="513.2" y1="394.6" x2="513.2" y2="397.6" stroke="#222" stroke-width="1"/>
<text x="513.2" y="408.2" font-family="Liberation Serif" font-weight="bold" font-size="10" text-anchor="middle" fill="#000" >2019</text>
<line x1="533.6" y1="394.6" x2="533.6" y2="396.4" stroke="#222" stroke-width="1"/>
<line x1="553.9" y1="394.6" x2="553.9" y2="397.6" stroke="#222" stroke-width="1"/>
<text x="553.9" y="408.2" font-family="Liberation Serif" font-weight="bold" font-size="10" text-anchor="middle" fill="#000" >2020</text>
<line x1="574.3" y1="394.6" x2="574.3" y2="396.4" stroke="#222" stroke-width="1"/>
<line x1="594.7" y1="394.6" x2="594.7" y2="397.6" stroke="#222" stroke-width="1"/>
<text x="594.7" y="408.2" font-family="Liberation Serif" font-weight="bold" font-size="10" text-anchor="middle" fill="#000" >2021</text>
<line x1="615.1" y1="394.6" x2="615.1" y2="396.4" stroke="#222" stroke-width="1"/>
<line x1="635.5" y1="394.6" x2="635.5" y2="397.6" stroke="#222" stroke-width="1"/>
<text x="635.5" y="408.2" font-family="Liberation Serif" font-weight="bold" font-size="10" text-anchor="middle" fill="#000" >Average</text>
<rect x="433.2" y="215.2" width="16.9" height="8" fill="url(#ccy)"/>
<text x="454.1" y="222.8" font-family="Liberation Serif" font-weight="bold" font-size="7.8" text-anchor="start" fill="#000" textLength="57.9" lengthAdjust="spacingAndGlyphs" >Water self-buffered</text>
<rect x="516" y="215.2" width="16.7" height="8" fill="url(#cbl)"/>
<text x="536.8" y="222.8" font-family="Liberation Serif" font-weight="bold" font-size="7.80" fill="#000" textLength="29.4" lengthAdjust="spacingAndGlyphs"><tspan dy="0.00" font-size="7.80">NH</tspan><tspan dy="1.90" font-size="5.40">4</tspan><tspan dy="-5.20" font-size="5.40">+</tspan><tspan dy="3.30" font-size="7.80">/NH</tspan><tspan dy="1.90" font-size="5.40">3</tspan></text>
<rect x="570.3" y="215.2" width="16.7" height="8" fill="url(#crd)"/>
<text x="590.8" y="222.8" font-family="Liberation Serif" font-weight="bold" font-size="7.80" fill="#000" textLength="36.0" lengthAdjust="spacingAndGlyphs"><tspan dy="0.00" font-size="7.80">HSO</tspan><tspan dy="1.90" font-size="5.40">4</tspan><tspan dy="-5.20" font-size="5.40">-</tspan><tspan dy="3.30" font-size="7.80">/SO</tspan><tspan dy="1.90" font-size="5.40">4</tspan><tspan dy="-5.20" font-size="5.40">2-</tspan></text>
<rect x="630.2" y="215.2" width="17.5" height="8" fill="url(#cgr)"/>
<text x="651.5" y="222.8" font-family="Liberation Serif" font-weight="bold" font-size="7.80" fill="#000" textLength="35.0" lengthAdjust="spacingAndGlyphs"><tspan dy="0.00" font-size="7.80">HNO</tspan><tspan dy="1.90" font-size="5.40">3</tspan><tspan dy="-1.90" font-size="7.80">/NO</tspan><tspan dy="1.90" font-size="5.40">3</tspan><tspan dy="-5.20" font-size="5.40">-</tspan></text>
<text x="407.3" y="227.6" font-family="Liberation Serif" font-weight="bold" font-size="26" text-anchor="start" fill="#000" >c</text>
<text transform="translate(432.7,313.6) rotate(-90)" font-family="Liberation Serif" font-weight="bold" font-size="10" text-anchor="middle">Acid-Base buffering capacity <tspan font-weight="normal">β</tspan> (mol kg<tspan font-size="6.5" dy="-3.5">-1</tspan><tspan dy="3.5">)</tspan></text>
<defs><clipPath id="dclip"><rect x="72.0" y="439.9" width="583.6" height="229.7"/></clipPath></defs>
<g clip-path="url(#dclip)">
<path d="M72.1,668.1 L72.1,432.9 L73.2,432.9 L74.3,432.9 L75.4,432.9 L76.5,432.9 L77.7,432.9 L78.8,432.9 L79.9,432.9 L81.0,432.9 L82.2,432.9 L83.3,432.9 L84.4,432.9 L85.5,432.9 L86.6,432.9 L87.8,432.9 L88.9,432.9 L90.0,432.9 L91.1,432.9 L92.3,432.9 L93.4,432.9 L94.5,432.9 L95.6,432.9 L96.7,432.9 L97.9,432.9 L99.0,432.9 L100.1,432.9 L101.2,432.9 L102.4,432.9 L103.5,432.9 L104.6,432.9 L105.7,432.9 L106.8,432.9 L108.0,432.9 L109.1,432.9 L110.2,432.9 L111.3,432.9 L112.5,432.9 L113.6,432.9 L114.7,432.9 L115.8,432.9 L116.9,432.9 L118.1,432.9 L119.2,432.9 L120.3,432.9 L121.4,432.9 L122.5,432.9 L123.7,432.9 L124.8,434.3 L125.9,444.8 L127.0,454.9 L128.2,464.5 L129.3,473.6 L130.4,482.4 L131.5,490.7 L132.6,498.7 L133.8,506.4 L134.9,513.6 L136.0,520.6 L137.1,527.2 L138.3,533.6 L139.4,539.6 L140.5,545.4 L141.6,550.9 L142.7,556.2 L143.9,561.2 L145.0,566.0 L146.1,570.6 L147.2,575.0 L148.4,579.2 L149.5,583.2 L150.6,587.0 L151.7,590.7 L152.8,594.2 L154.0,597.5 L155.1,600.7 L156.2,603.7 L157.3,606.6 L158.5,609.4 L159.6,612.0 L160.7,614.5 L161.8,617.0 L162.9,619.3 L164.1,621.5 L165.2,623.6 L166.3,625.6 L167.4,627.5 L168.6,629.3 L169.7,631.0 L170.8,632.7 L171.9,634.3 L173.0,635.8 L174.2,637.3 L175.3,638.7 L176.4,640.0 L177.5,641.3 L178.7,642.5 L179.8,643.6 L180.9,644.7 L182.0,645.8 L183.1,646.8 L184.3,647.7 L185.4,648.7 L186.5,649.5 L187.6,650.4 L188.7,651.2 L189.9,651.9 L191.0,652.7 L192.1,653.3 L193.2,654.0 L194.4,654.6 L195.5,655.3 L196.6,655.8 L197.7,656.4 L198.8,656.9 L200.0,657.4 L201.1,657.9 L202.2,658.4 L203.3,658.8 L204.5,659.2 L205.6,659.6 L206.7,660.0 L207.8,660.4 L208.9,660.7 L210.1,661.0 L211.2,661.4 L212.3,661.7 L213.4,662.0 L214.6,662.2 L215.7,662.5 L216.8,662.7 L217.9,663.0 L219.0,663.2 L220.2,663.4 L221.3,663.6 L222.4,663.8 L223.5,664.0 L224.7,664.2 L225.8,664.4 L226.9,664.6 L228.0,664.7 L229.1,664.9 L230.3,665.0 L231.4,665.2 L232.5,665.3 L233.6,665.4 L234.8,665.5 L235.9,665.7 L237.0,665.8 L238.1,665.9 L239.2,666.0 L240.4,666.1 L241.5,666.2 L242.6,666.2 L243.7,666.3 L244.8,666.4 L246.0,666.5 L247.1,666.6 L248.2,666.6 L249.3,666.7 L250.5,666.8 L251.6,666.8 L252.7,666.9 L253.8,666.9 L254.9,667.0 L256.1,667.0 L257.2,667.1 L258.3,667.1 L259.4,667.2 L260.6,667.2 L261.7,667.3 L262.8,667.3 L263.9,667.3 L265.0,667.4 L266.2,667.4 L267.3,667.4 L268.4,667.5 L269.5,667.5 L270.7,667.5 L271.8,667.5 L272.9,667.6 L274.0,667.6 L275.1,667.6 L276.3,667.6 L277.4,667.7 L278.5,667.7 L279.6,667.7 L280.8,667.7 L281.9,667.7 L283.0,667.7 L284.1,667.8 L285.2,667.8 L286.4,667.8 L287.5,667.8 L288.6,667.8 L289.7,667.8 L290.9,667.8 L292.0,667.9 L293.1,667.9 L294.2,667.9 L295.3,667.9 L296.5,667.9 L297.6,667.9 L298.7,667.9 L299.8,667.9 L300.9,667.9 L302.1,667.9 L303.2,667.9 L304.3,668.0 L305.4,668.0 L306.6,668.0 L307.7,668.0 L308.8,668.0 L309.9,668.0 L311.0,668.0 L312.2,668.0 L313.3,668.0 L314.4,668.0 L315.5,668.0 L316.7,668.0 L317.8,668.0 L318.9,668.0 L320.0,668.0 L321.1,668.0 L322.3,668.0 L323.4,668.0 L324.5,668.0 L325.6,668.0 L326.8,668.0 L327.9,668.0 L329.0,668.0 L330.1,668.0 L331.2,668.1 L332.4,668.1 L333.5,668.1 L334.6,668.1 L335.7,668.1 L336.9,668.1 L338.0,668.1 L339.1,668.1 L340.2,668.1 L341.3,668.1 L342.5,668.1 L343.6,668.1 L344.7,668.1 L345.8,668.1 L347.0,668.1 L348.1,668.1 L349.2,668.1 L350.3,668.1 L351.4,668.1 L352.6,668.1 L353.7,668.1 L354.8,668.1 L355.9,668.1 L357.0,668.1 L358.2,668.1 L359.3,668.1 L360.4,668.1 L361.5,668.1 L362.7,668.1 L363.8,668.1 L364.9,668.1 L366.0,668.1 L367.1,668.1 L368.3,668.1 L369.4,668.1 L370.5,668.1 L371.6,668.1 L372.8,668.1 L373.9,668.1 L375.0,668.1 L376.1,668.1 L377.2,668.1 L378.4,668.1 L379.5,668.1 L380.6,668.1 L381.7,668.1 L382.9,668.1 L384.0,668.1 L385.1,668.1 L386.2,668.1 L387.3,668.1 L388.5,668.1 L389.6,668.1 L390.7,668.1 L391.8,668.1 L393.0,668.1 L394.1,668.1 L395.2,668.1 L396.3,668.1 L397.4,668.1 L398.6,668.1 L399.7,668.1 L400.8,668.1 L401.9,668.1 L403.1,668.1 L404.2,668.1 L405.3,668.1 L406.4,668.1 L407.5,668.1 L408.7,668.1 L409.8,668.1 L410.9,668.1 L412.0,668.1 L413.1,668.1 L414.3,668.1 L415.4,668.1 L416.5,668.1 L417.6,668.1 L418.8,668.1 L419.9,668.1 L421.0,668.1 L422.1,668.1 L423.2,668.1 L424.4,668.1 L425.5,668.1 L426.6,668.1 L427.7,668.1 L428.9,668.1 L430.0,668.1 L431.1,668.1 L432.2,668.1 L433.3,668.1 L434.5,668.1 L435.6,668.1 L436.7,668.1 L437.8,668.1 L439.0,668.1 L440.1,668.1 L441.2,668.1 L442.3,668.1 L443.4,668.1 L444.6,668.1 L445.7,668.1 L446.8,668.1 L447.9,668.1 L449.1,668.1 L450.2,668.1 L451.3,668.1 L452.4,668.1 L453.5,668.1 L454.7,668.1 L455.8,668.1 L456.9,668.1 L458.0,668.1 L459.1,668.1 L460.3,668.1 L461.4,668.1 L462.5,668.1 L463.6,668.1 L464.8,668.1 L465.9,668.1 L467.0,668.1 L468.1,668.1 L469.2,668.1 L470.4,668.1 L471.5,668.1 L472.6,668.1 L473.7,668.1 L474.9,668.1 L476.0,668.1 L477.1,668.1 L478.2,668.1 L479.3,668.1 L480.5,668.1 L481.6,668.1 L482.7,668.1 L483.8,668.1 L485.0,668.1 L486.1,668.1 L487.2,668.1 L488.3,668.1 L489.4,668.1 L490.6,668.1 L491.7,668.1 L492.8,668.1 L493.9,668.1 L495.1,668.1 L496.2,668.1 L497.3,668.1 L498.4,668.1 L499.5,668.1 L500.7,668.1 L501.8,668.1 L502.9,668.1 L504.0,668.1 L505.2,668.1 L506.3,668.1 L507.4,668.1 L508.5,668.1 L509.6,668.1 L510.8,668.1 L511.9,668.1 L513.0,668.1 L514.1,668.1 L515.2,668.1 L516.4,668.1 L517.5,668.1 L518.6,668.1 L519.7,668.1 L520.9,668.1 L522.0,668.1 L523.1,668.1 L524.2,668.1 L525.3,668.1 L526.5,668.1 L527.6,668.1 L528.7,668.1 L529.8,668.1 L531.0,668.1 L532.1,668.1 L533.2,668.1 L534.3,668.1 L535.4,668.1 L536.6,668.1 L537.7,668.1 L538.8,668.1 L539.9,668.1 L541.1,668.1 L542.2,668.1 L543.3,668.1 L544.4,668.1 L545.5,668.1 L546.7,668.1 L547.8,668.1 L548.9,668.1 L550.0,668.1 L551.2,668.1 L552.3,668.1 L553.4,668.1 L554.5,668.1 L555.6,668.1 L556.8,668.1 L557.9,668.1 L559.0,668.1 L560.1,668.1 L561.3,668.1 L562.4,668.1 L563.5,668.1 L564.6,668.1 L565.7,668.1 L566.9,668.1 L568.0,668.1 L569.1,668.1 L570.2,668.1 L571.4,668.1 L572.5,668.1 L573.6,668.1 L574.7,668.1 L575.8,668.1 L577.0,668.1 L578.1,668.1 L579.2,668.1 L580.3,668.1 L581.4,668.1 L582.6,668.1 L583.7,668.1 L584.8,668.1 L585.9,668.1 L587.1,668.1 L588.2,668.1 L589.3,668.1 L590.4,668.1 L591.5,668.1 L592.7,668.1 L593.8,668.1 L594.9,668.1 L596.0,668.1 L597.2,668.1 L598.3,668.1 L599.4,668.1 L600.5,668.1 L601.6,668.1 L602.8,668.1 L603.9,668.1 L605.0,668.1 L606.1,668.1 L607.3,668.1 L608.4,668.1 L609.5,668.1 L610.6,668.1 L611.7,668.1 L612.9,668.1 L614.0,668.1 L615.1,668.1 L616.2,668.1 L617.4,668.1 L618.5,668.1 L619.6,668.1 L620.7,668.1 L621.8,668.1 L623.0,668.1 L624.1,668.1 L625.2,668.1 L626.3,668.1 L627.5,668.1 L628.6,668.1 L629.7,668.1 L630.8,668.1 L631.9,668.1 L633.1,668.1 L634.2,668.1 L635.3,668.1 L636.4,668.1 L637.5,668.1 L638.7,668.1 L639.8,668.1 L640.9,668.1 L642.0,668.1 L643.2,668.1 L644.3,668.1 L645.4,668.1 L646.5,668.1 L647.6,668.1 L648.8,668.1 L649.9,668.1 L651.0,668.1 L652.1,668.1 L653.3,668.1 L654.4,668.1 L655.5,668.1 L655.5,668.1 Z" fill="#c8fefe"/>
<path d="M72.1,668.1 L72.1,667.7 L73.2,667.7 L74.3,667.7 L75.4,667.7 L76.5,667.7 L77.7,667.6 L78.8,667.6 L79.9,667.6 L81.0,667.6 L82.2,667.5 L83.3,667.5 L84.4,667.5 L85.5,667.5 L86.6,667.4 L87.8,667.4 L88.9,667.4 L90.0,667.3 L91.1,667.3 L92.3,667.3 L93.4,667.2 L94.5,667.2 L95.6,667.1 L96.7,667.1 L97.9,667.0 L99.0,667.0 L100.1,667.0 L101.2,666.9 L102.4,666.8 L103.5,666.8 L104.6,666.7 L105.7,666.7 L106.8,666.6 L108.0,666.5 L109.1,666.5 L110.2,666.4 L111.3,666.3 L112.5,666.2 L113.6,666.2 L114.7,666.1 L115.8,666.0 L116.9,665.9 L118.1,665.8 L119.2,665.7 L120.3,665.6 L121.4,665.5 L122.5,665.4 L123.7,665.3 L124.8,665.2 L125.9,665.1 L127.0,665.0 L128.2,664.9 L129.3,664.7 L130.4,664.6 L131.5,664.5 L132.6,664.4 L133.8,664.2 L134.9,664.1 L136.0,664.0 L137.1,663.8 L138.3,663.7 L139.4,663.5 L140.5,663.4 L141.6,663.3 L142.7,663.1 L143.9,663.0 L145.0,662.8 L146.1,662.7 L147.2,662.5 L148.4,662.4 L149.5,662.3 L150.6,662.1 L151.7,662.0 L152.8,661.9 L154.0,661.7 L155.1,661.6 L156.2,661.5 L157.3,661.3 L158.5,661.2 L159.6,661.1 L160.7,661.0 L161.8,660.9 L162.9,660.8 L164.1,660.8 L165.2,660.7 L166.3,660.6 L167.4,660.5 L168.6,660.5 L169.7,660.4 L170.8,660.4 L171.9,660.4 L173.0,660.4 L174.2,660.4 L175.3,660.4 L176.4,660.4 L177.5,660.4 L178.7,660.4 L179.8,660.4 L180.9,660.5 L182.0,660.5 L183.1,660.6 L184.3,660.6 L185.4,660.7 L186.5,660.8 L187.6,660.9 L188.7,661.0 L189.9,661.1 L191.0,661.2 L192.1,661.3 L193.2,661.4 L194.4,661.5 L195.5,661.6 L196.6,661.7 L197.7,661.9 L198.8,662.0 L200.0,662.1 L201.1,662.2 L202.2,662.4 L203.3,662.5 L204.5,662.6 L205.6,662.8 L206.7,662.9 L207.8,663.1 L208.9,663.2 L210.1,663.3 L211.2,663.5 L212.3,663.6 L213.4,663.7 L214.6,663.9 L215.7,664.0 L216.8,664.1 L217.9,664.3 L219.0,664.4 L220.2,664.5 L221.3,664.6 L222.4,664.7 L223.5,664.9 L224.7,665.0 L225.8,665.1 L226.9,665.2 L228.0,665.3 L229.1,665.4 L230.3,665.5 L231.4,665.6 L232.5,665.7 L233.6,665.8 L234.8,665.9 L235.9,665.9 L237.0,666.0 L238.1,666.1 L239.2,666.2 L240.4,666.3 L241.5,666.3 L242.6,666.4 L243.7,666.5 L244.8,666.5 L246.0,666.6 L247.1,666.7 L248.2,666.7 L249.3,666.8 L250.5,666.8 L251.6,666.9 L252.7,666.9 L253.8,667.0 L254.9,667.0 L256.1,667.1 L257.2,667.1 L258.3,667.2 L259.4,667.2 L260.6,667.2 L261.7,667.3 L262.8,667.3 L263.9,667.3 L265.0,667.4 L266.2,667.4 L267.3,667.4 L268.4,667.5 L269.5,667.5 L270.7,667.5 L271.8,667.5 L272.9,667.6 L274.0,667.6 L275.1,667.6 L276.3,667.6 L277.4,667.7 L278.5,667.7 L279.6,667.7 L280.8,667.7 L281.9,667.7 L283.0,667.7 L284.1,667.8 L285.2,667.8 L286.4,667.8 L287.5,667.8 L288.6,667.8 L289.7,667.8 L290.9,667.8 L292.0,667.9 L293.1,667.9 L294.2,667.9 L295.3,667.9 L296.5,667.9 L297.6,667.9 L298.7,667.9 L299.8,667.9 L300.9,667.9 L302.1,667.9 L303.2,667.9 L304.3,667.9 L305.4,668.0 L306.6,668.0 L307.7,668.0 L308.8,668.0 L309.9,668.0 L311.0,668.0 L312.2,668.0 L313.3,668.0 L314.4,668.0 L315.5,668.0 L316.7,668.0 L317.8,668.0 L318.9,668.0 L320.0,668.0 L321.1,668.0 L322.3,668.0 L323.4,668.0 L324.5,668.0 L325.6,668.0 L326.8,668.0 L327.9,668.0 L329.0,668.0 L330.1,668.0 L331.2,668.0 L332.4,668.1 L333.5,668.1 L334.6,668.1 L335.7,668.1 L336.9,668.1 L338.0,668.1 L339.1,668.1 L340.2,668.1 L341.3,668.1 L342.5,668.1 L343.6,668.1 L344.7,668.1 L345.8,668.1 L347.0,668.1 L348.1,668.1 L349.2,668.1 L350.3,668.1 L351.4,668.1 L352.6,668.1 L353.7,668.1 L354.8,668.1 L355.9,668.1 L357.0,668.1 L358.2,668.1 L359.3,668.1 L360.4,668.1 L361.5,668.1 L362.7,668.1 L363.8,668.1 L364.9,668.1 L366.0,668.1 L367.1,668.1 L368.3,668.1 L369.4,668.1 L370.5,668.1 L371.6,668.1 L372.8,668.1 L373.9,668.1 L375.0,668.1 L376.1,668.1 L377.2,668.1 L378.4,668.1 L379.5,668.1 L380.6,668.1 L381.7,668.1 L382.9,668.1 L384.0,668.1 L385.1,668.1 L386.2,668.1 L387.3,668.1 L388.5,668.1 L389.6,668.1 L390.7,668.1 L391.8,668.1 L393.0,668.1 L394.1,668.1 L395.2,668.1 L396.3,668.1 L397.4,668.1 L398.6,668.1 L399.7,668.1 L400.8,668.1 L401.9,668.1 L403.1,668.1 L404.2,668.1 L405.3,668.1 L406.4,668.1 L407.5,668.1 L408.7,668.1 L409.8,668.1 L410.9,668.1 L412.0,668.1 L413.1,668.1 L414.3,668.1 L415.4,668.1 L416.5,668.1 L417.6,668.1 L418.8,668.1 L419.9,668.1 L421.0,668.1 L422.1,668.1 L423.2,668.1 L424.4,668.1 L425.5,668.1 L426.6,668.1 L427.7,668.1 L428.9,668.1 L430.0,668.1 L431.1,668.1 L432.2,668.1 L433.3,668.1 L434.5,668.1 L435.6,668.1 L436.7,668.1 L437.8,668.1 L439.0,668.1 L440.1,668.1 L441.2,668.1 L442.3,668.1 L443.4,668.1 L444.6,668.1 L445.7,668.1 L446.8,668.1 L447.9,668.1 L449.1,668.1 L450.2,668.1 L451.3,668.1 L452.4,668.1 L453.5,668.1 L454.7,668.1 L455.8,668.1 L456.9,668.1 L458.0,668.1 L459.1,668.1 L460.3,668.1 L461.4,668.1 L462.5,668.1 L463.6,668.1 L464.8,668.1 L465.9,668.1 L467.0,668.1 L468.1,668.1 L469.2,668.1 L470.4,668.1 L471.5,668.1 L472.6,668.1 L473.7,668.1 L474.9,668.1 L476.0,668.1 L477.1,668.1 L478.2,668.1 L479.3,668.1 L480.5,668.1 L481.6,668.1 L482.7,668.1 L483.8,668.1 L485.0,668.1 L486.1,668.1 L487.2,668.1 L488.3,668.1 L489.4,668.1 L490.6,668.1 L491.7,668.1 L492.8,668.1 L493.9,668.1 L495.1,668.1 L496.2,668.1 L497.3,668.1 L498.4,668.1 L499.5,668.1 L500.7,668.1 L501.8,668.1 L502.9,668.1 L504.0,668.1 L505.2,668.1 L506.3,668.1 L507.4,668.1 L508.5,668.1 L509.6,668.1 L510.8,668.1 L511.9,668.1 L513.0,668.1 L514.1,668.1 L515.2,668.1 L516.4,668.1 L517.5,668.1 L518.6,668.1 L519.7,668.1 L520.9,668.1 L522.0,668.1 L523.1,668.1 L524.2,668.1 L525.3,668.1 L526.5,668.1 L527.6,668.1 L528.7,668.1 L529.8,668.1 L531.0,668.1 L532.1,668.1 L533.2,668.1 L534.3,668.1 L535.4,668.1 L536.6,668.1 L537.7,668.1 L538.8,668.1 L539.9,668.1 L541.1,668.1 L542.2,668.1 L543.3,668.1 L544.4,668.1 L545.5,668.1 L546.7,668.1 L547.8,668.1 L548.9,668.1 L550.0,668.1 L551.2,668.1 L552.3,668.1 L553.4,668.1 L554.5,668.1 L555.6,668.1 L556.8,668.1 L557.9,668.1 L559.0,668.1 L560.1,668.1 L561.3,668.1 L562.4,668.1 L563.5,668.1 L564.6,668.1 L565.7,668.1 L566.9,668.1 L568.0,668.1 L569.1,668.1 L570.2,668.1 L571.4,668.1 L572.5,668.1 L573.6,668.1 L574.7,668.1 L575.8,668.1 L577.0,668.1 L578.1,668.1 L579.2,668.1 L580.3,668.1 L581.4,668.1 L582.6,668.1 L583.7,668.1 L584.8,668.1 L585.9,668.1 L587.1,668.1 L588.2,668.1 L589.3,668.1 L590.4,668.1 L591.5,668.1 L592.7,668.1 L593.8,668.1 L594.9,668.1 L596.0,668.1 L597.2,668.1 L598.3,668.1 L599.4,668.1 L600.5,668.1 L601.6,668.1 L602.8,668.1 L603.9,668.1 L605.0,668.1 L606.1,668.1 L607.3,668.1 L608.4,668.1 L609.5,668.1 L610.6,668.1 L611.7,668.1 L612.9,668.1 L614.0,668.1 L615.1,668.1 L616.2,668.1 L617.4,668.1 L618.5,668.1 L619.6,668.1 L620.7,668.1 L621.8,668.1 L623.0,668.1 L624.1,668.1 L625.2,668.1 L626.3,668.1 L627.5,668.1 L628.6,668.1 L629.7,668.1 L630.8,668.1 L631.9,668.1 L633.1,668.1 L634.2,668.1 L635.3,668.1 L636.4,668.1 L637.5,668.1 L638.7,668.1 L639.8,668.1 L640.9,668.1 L642.0,668.1 L643.2,668.1 L644.3,668.1 L645.4,668.1 L646.5,668.1 L647.6,668.1 L648.8,668.1 L649.9,668.1 L651.0,668.1 L652.1,668.1 L653.3,668.1 L654.4,668.1 L655.5,668.1 L655.5,668.1 Z" fill="#d3cbcc"/>
<path d="M72.1,668.1 L72.1,668.1 L73.2,668.1 L74.3,668.1 L75.4,668.1 L76.5,668.1 L77.7,668.1 L78.8,668.1 L79.9,668.1 L81.0,668.1 L82.2,668.1 L83.3,668.1 L84.4,668.1 L85.5,668.1 L86.6,668.1 L87.8,668.1 L88.9,668.1 L90.0,668.1 L91.1,668.1 L92.3,668.1 L93.4,668.1 L94.5,668.1 L95.6,668.1 L96.7,668.1 L97.9,668.1 L99.0,668.1 L100.1,668.1 L101.2,668.1 L102.4,668.1 L103.5,668.1 L104.6,668.1 L105.7,668.1 L106.8,668.1 L108.0,668.1 L109.1,668.1 L110.2,668.1 L111.3,668.1 L112.5,668.1 L113.6,668.1 L114.7,668.1 L115.8,668.1 L116.9,668.1 L118.1,668.1 L119.2,668.1 L120.3,668.1 L121.4,668.1 L122.5,668.1 L123.7,668.1 L124.8,668.1 L125.9,668.1 L127.0,668.1 L128.2,668.1 L129.3,668.1 L130.4,668.1 L131.5,668.1 L132.6,668.1 L133.8,668.1 L134.9,668.1 L136.0,668.1 L137.1,668.1 L138.3,668.1 L139.4,668.1 L140.5,668.1 L141.6,668.1 L142.7,668.1 L143.9,668.0 L145.0,668.0 L146.1,668.0 L147.2,668.0 L148.4,668.0 L149.5,668.0 L150.6,668.0 L151.7,668.0 L152.8,668.0 L154.0,668.0 L155.1,668.0 L156.2,668.0 L157.3,668.0 L158.5,668.0 L159.6,668.0 L160.7,668.0 L161.8,668.0 L162.9,668.0 L164.1,668.0 L165.2,668.0 L166.3,668.0 L167.4,668.0 L168.6,668.0 L169.7,668.0 L170.8,667.9 L171.9,667.9 L173.0,667.9 L174.2,667.9 L175.3,667.9 L176.4,667.9 L177.5,667.9 L178.7,667.9 L179.8,667.9 L180.9,667.9 L182.0,667.9 L183.1,667.8 L184.3,667.8 L185.4,667.8 L186.5,667.8 L187.6,667.8 L188.7,667.8 L189.9,667.8 L191.0,667.7 L192.1,667.7 L193.2,667.7 L194.4,667.7 L195.5,667.7 L196.6,667.7 L197.7,667.6 L198.8,667.6 L200.0,667.6 L201.1,667.6 L202.2,667.5 L203.3,667.5 L204.5,667.5 L205.6,667.5 L206.7,667.4 L207.8,667.4 L208.9,667.4 L210.1,667.3 L211.2,667.3 L212.3,667.3 L213.4,667.2 L214.6,667.2 L215.7,667.1 L216.8,667.1 L217.9,667.0 L219.0,667.0 L220.2,666.9 L221.3,666.9 L222.4,666.8 L223.5,666.8 L224.7,666.7 L225.8,666.7 L226.9,666.6 L228.0,666.5 L229.1,666.4 L230.3,666.4 L231.4,666.3 L232.5,666.2 L233.6,666.1 L234.8,666.0 L235.9,665.9 L237.0,665.8 L238.1,665.7 L239.2,665.6 L240.4,665.5 L241.5,665.4 L242.6,665.3 L243.7,665.2 L244.8,665.0 L246.0,664.9 L247.1,664.8 L248.2,664.6 L249.3,664.5 L250.5,664.3 L251.6,664.2 L252.7,664.0 L253.8,663.8 L254.9,663.6 L256.1,663.4 L257.2,663.2 L258.3,663.0 L259.4,662.8 L260.6,662.6 L261.7,662.4 L262.8,662.1 L263.9,661.9 L265.0,661.6 L266.2,661.4 L267.3,661.1 L268.4,660.8 L269.5,660.6 L270.7,660.3 L271.8,660.0 L272.9,659.6 L274.0,659.3 L275.1,659.0 L276.3,658.7 L277.4,658.3 L278.5,658.0 L279.6,657.6 L280.8,657.2 L281.9,656.8 L283.0,656.5 L284.1,656.1 L285.2,655.7 L286.4,655.3 L287.5,654.9 L288.6,654.4 L289.7,654.0 L290.9,653.6 L292.0,653.2 L293.1,652.7 L294.2,652.3 L295.3,651.8 L296.5,651.4 L297.6,651.0 L298.7,650.5 L299.8,650.1 L300.9,649.7 L302.1,649.3 L303.2,648.8 L304.3,648.4 L305.4,648.0 L306.6,647.6 L307.7,647.3 L308.8,646.9 L309.9,646.5 L311.0,646.2 L312.2,645.9 L313.3,645.5 L314.4,645.2 L315.5,645.0 L316.7,644.7 L317.8,644.5 L318.9,644.3 L320.0,644.1 L321.1,643.9 L322.3,643.8 L323.4,643.7 L324.5,643.6 L325.6,643.5 L326.8,643.5 L327.9,643.5 L329.0,643.5 L330.1,643.5 L331.2,643.6 L332.4,643.7 L333.5,643.8 L334.6,643.9 L335.7,644.1 L336.9,644.3 L338.0,644.5 L339.1,644.7 L340.2,645.0 L341.3,645.2 L342.5,645.5 L343.6,645.9 L344.7,646.2 L345.8,646.5 L347.0,646.9 L348.1,647.3 L349.2,647.6 L350.3,648.0 L351.4,648.4 L352.6,648.8 L353.7,649.3 L354.8,649.7 L355.9,650.1 L357.0,650.5 L358.2,651.0 L359.3,651.4 L360.4,651.8 L361.5,652.3 L362.7,652.7 L363.8,653.2 L364.9,653.6 L366.0,654.0 L367.1,654.4 L368.3,654.9 L369.4,655.3 L370.5,655.7 L371.6,656.1 L372.8,656.5 L373.9,656.8 L375.0,657.2 L376.1,657.6 L377.2,658.0 L378.4,658.3 L379.5,658.7 L380.6,659.0 L381.7,659.3 L382.9,659.6 L384.0,660.0 L385.1,660.3 L386.2,660.6 L387.3,660.8 L388.5,661.1 L389.6,661.4 L390.7,661.6 L391.8,661.9 L393.0,662.1 L394.1,662.4 L395.2,662.6 L396.3,662.8 L397.4,663.0 L398.6,663.2 L399.7,663.4 L400.8,663.6 L401.9,663.8 L403.1,664.0 L404.2,664.2 L405.3,664.3 L406.4,664.5 L407.5,664.6 L408.7,664.8 L409.8,664.9 L410.9,665.0 L412.0,665.2 L413.1,665.3 L414.3,665.4 L415.4,665.5 L416.5,665.6 L417.6,665.7 L418.8,665.8 L419.9,665.9 L421.0,666.0 L422.1,666.1 L423.2,666.2 L424.4,666.3 L425.5,666.4 L426.6,666.4 L427.7,666.5 L428.9,666.6 L430.0,666.7 L431.1,666.7 L432.2,666.8 L433.3,666.8 L434.5,666.9 L435.6,666.9 L436.7,667.0 L437.8,667.0 L439.0,667.1 L440.1,667.1 L441.2,667.2 L442.3,667.2 L443.4,667.3 L444.6,667.3 L445.7,667.3 L446.8,667.4 L447.9,667.4 L449.1,667.4 L450.2,667.5 L451.3,667.5 L452.4,667.5 L453.5,667.5 L454.7,667.6 L455.8,667.6 L456.9,667.6 L458.0,667.6 L459.1,667.7 L460.3,667.7 L461.4,667.7 L462.5,667.7 L463.6,667.7 L464.8,667.7 L465.9,667.8 L467.0,667.8 L468.1,667.8 L469.2,667.8 L470.4,667.8 L471.5,667.8 L472.6,667.8 L473.7,667.9 L474.9,667.9 L476.0,667.9 L477.1,667.9 L478.2,667.9 L479.3,667.9 L480.5,667.9 L481.6,667.9 L482.7,667.9 L483.8,667.9 L485.0,667.9 L486.1,668.0 L487.2,668.0 L488.3,668.0 L489.4,668.0 L490.6,668.0 L491.7,668.0 L492.8,668.0 L493.9,668.0 L495.1,668.0 L496.2,668.0 L497.3,668.0 L498.4,668.0 L499.5,668.0 L500.7,668.0 L501.8,668.0 L502.9,668.0 L504.0,668.0 L505.2,668.0 L506.3,668.0 L507.4,668.0 L508.5,668.0 L509.6,668.0 L510.8,668.0 L511.9,668.0 L513.0,668.1 L514.1,668.1 L515.2,668.1 L516.4,668.1 L517.5,668.1 L518.6,668.1 L519.7,668.1 L520.9,668.1 L522.0,668.1 L523.1,668.1 L524.2,668.1 L525.3,668.1 L526.5,668.1 L527.6,668.1 L528.7,668.1 L529.8,668.1 L531.0,668.1 L532.1,668.1 L533.2,668.1 L534.3,668.1 L535.4,668.1 L536.6,668.1 L537.7,668.1 L538.8,668.1 L539.9,668.1 L541.1,668.1 L542.2,668.1 L543.3,668.1 L544.4,668.1 L545.5,668.1 L546.7,668.1 L547.8,668.1 L548.9,668.1 L550.0,668.1 L551.2,668.1 L552.3,668.1 L553.4,668.1 L554.5,668.1 L555.6,668.1 L556.8,668.1 L557.9,668.1 L559.0,668.1 L560.1,668.1 L561.3,668.1 L562.4,668.1 L563.5,668.1 L564.6,668.1 L565.7,668.1 L566.9,668.1 L568.0,668.1 L569.1,668.1 L570.2,668.1 L571.4,668.1 L572.5,668.1 L573.6,668.1 L574.7,668.1 L575.8,668.1 L577.0,668.1 L578.1,668.1 L579.2,668.1 L580.3,668.1 L581.4,668.1 L582.6,668.1 L583.7,668.1 L584.8,668.1 L585.9,668.1 L587.1,668.1 L588.2,668.1 L589.3,668.1 L590.4,668.1 L591.5,668.1 L592.7,668.1 L593.8,668.1 L594.9,668.1 L596.0,668.1 L597.2,668.1 L598.3,668.1 L599.4,668.1 L600.5,668.1 L601.6,668.1 L602.8,668.1 L603.9,668.1 L605.0,668.1 L606.1,668.1 L607.3,668.1 L608.4,668.1 L609.5,668.1 L610.6,668.1 L611.7,668.1 L612.9,668.1 L614.0,668.1 L615.1,668.1 L616.2,668.1 L617.4,668.1 L618.5,668.1 L619.6,668.1 L620.7,668.1 L621.8,668.1 L623.0,668.1 L624.1,668.1 L625.2,668.1 L626.3,668.1 L627.5,668.1 L628.6,668.1 L629.7,668.1 L630.8,668.1 L631.9,668.1 L633.1,668.1 L634.2,668.1 L635.3,668.1 L636.4,668.1 L637.5,668.1 L638.7,668.1 L639.8,668.1 L640.9,668.1 L642.0,668.1 L643.2,668.1 L644.3,668.1 L645.4,668.1 L646.5,668.1 L647.6,668.1 L648.8,668.1 L649.9,668.1 L651.0,668.1 L652.1,668.1 L653.3,668.1 L654.4,668.1 L655.5,668.1 L655.5,668.1 Z" fill="#d4ecd0"/>
<path d="M72.1,668.1 L72.1,668.1 L73.2,668.1 L74.3,668.1 L75.4,668.1 L76.5,668.1 L77.7,668.1 L78.8,668.1 L79.9,668.1 L81.0,668.1 L82.2,668.1 L83.3,668.1 L84.4,668.1 L85.5,668.1 L86.6,668.1 L87.8,668.1 L88.9,668.1 L90.0,668.1 L91.1,668.1 L92.3,668.1 L93.4,668.1 L94.5,668.1 L95.6,668.1 L96.7,668.1 L97.9,668.1 L99.0,668.1 L100.1,668.1 L101.2,668.1 L102.4,668.1 L103.5,668.1 L104.6,668.1 L105.7,668.1 L106.8,668.1 L108.0,668.1 L109.1,668.1 L110.2,668.1 L111.3,668.1 L112.5,668.1 L113.6,668.1 L114.7,668.1 L115.8,668.1 L116.9,668.1 L118.1,668.1 L119.2,668.1 L120.3,668.1 L121.4,668.1 L122.5,668.1 L123.7,668.1 L124.8,668.1 L125.9,668.1 L127.0,668.1 L128.2,668.1 L129.3,668.1 L130.4,668.1 L131.5,668.1 L132.6,668.1 L133.8,668.1 L134.9,668.1 L136.0,668.1 L137.1,668.1 L138.3,668.1 L139.4,668.1 L140.5,668.1 L141.6,668.1 L142.7,668.1 L143.9,668.1 L145.0,668.1 L146.1,668.1 L147.2,668.1 L148.4,668.1 L149.5,668.1 L150.6,668.1 L151.7,668.1 L152.8,668.1 L154.0,668.1 L155.1,668.1 L156.2,668.1 L157.3,668.1 L158.5,668.1 L159.6,668.1 L160.7,668.1 L161.8,668.1 L162.9,668.1 L164.1,668.0 L165.2,668.0 L166.3,668.0 L167.4,668.0 L168.6,668.0 L169.7,668.0 L170.8,668.0 L171.9,668.0 L173.0,668.0 L174.2,668.0 L175.3,668.0 L176.4,668.0 L177.5,668.0 L178.7,668.0 L179.8,668.0 L180.9,668.0 L182.0,668.0 L183.1,668.0 L184.3,668.0 L185.4,668.0 L186.5,668.0 L187.6,668.0 L188.7,668.0 L189.9,668.0 L191.0,667.9 L192.1,667.9 L193.2,667.9 L194.4,667.9 L195.5,667.9 L196.6,667.9 L197.7,667.9 L198.8,667.9 L200.0,667.9 L201.1,667.9 L202.2,667.9 L203.3,667.8 L204.5,667.8 L205.6,667.8 L206.7,667.8 L207.8,667.8 L208.9,667.8 L210.1,667.8 L211.2,667.8 L212.3,667.7 L213.4,667.7 L214.6,667.7 L215.7,667.7 L216.8,667.7 L217.9,667.6 L219.0,667.6 L220.2,667.6 L221.3,667.6 L222.4,667.6 L223.5,667.5 L224.7,667.5 L225.8,667.5 L226.9,667.4 L228.0,667.4 L229.1,667.4 L230.3,667.3 L231.4,667.3 L232.5,667.3 L233.6,667.2 L234.8,667.2 L235.9,667.1 L237.0,667.1 L238.1,667.1 L239.2,667.0 L240.4,667.0 L241.5,666.9 L242.6,666.8 L243.7,666.8 L244.8,666.7 L246.0,666.7 L247.1,666.6 L248.2,666.5 L249.3,666.4 L250.5,666.4 L251.6,666.3 L252.7,666.2 L253.8,666.1 L254.9,666.0 L256.1,665.9 L257.2,665.8 L258.3,665.7 L259.4,665.6 L260.6,665.5 L261.7,665.4 L262.8,665.2 L263.9,665.1 L265.0,665.0 L266.2,664.8 L267.3,664.7 L268.4,664.5 L269.5,664.3 L270.7,664.2 L271.8,664.0 L272.9,663.8 L274.0,663.6 L275.1,663.4 L276.3,663.2 L277.4,662.9 L278.5,662.7 L279.6,662.5 L280.8,662.2 L281.9,661.9 L283.0,661.6 L284.1,661.3 L285.2,661.0 L286.4,660.7 L287.5,660.4 L288.6,660.0 L289.7,659.6 L290.9,659.2 L292.0,658.8 L293.1,658.4 L294.2,658.0 L295.3,657.5 L296.5,657.0 L297.6,656.5 L298.7,656.0 L299.8,655.5 L300.9,654.9 L302.1,654.3 L303.2,653.7 L304.3,653.0 L305.4,652.4 L306.6,651.7 L307.7,650.9 L308.8,650.2 L309.9,649.4 L311.0,648.5 L312.2,647.7 L313.3,646.8 L314.4,645.9 L315.5,644.9 L316.7,643.9 L317.8,642.8 L318.9,641.8 L320.0,640.6 L321.1,639.5 L322.3,638.3 L323.4,637.0 L324.5,635.7 L325.6,634.3 L326.8,632.9 L327.9,631.5 L329.0,630.0 L330.1,628.4 L331.2,626.8 L332.4,625.2 L333.5,623.5 L334.6,621.7 L335.7,619.9 L336.9,618.0 L338.0,616.1 L339.1,614.1 L340.2,612.1 L341.3,610.0 L342.5,607.9 L343.6,605.7 L344.7,603.4 L345.8,601.1 L347.0,598.8 L348.1,596.4 L349.2,593.9 L350.3,591.4 L351.4,588.9 L352.6,586.3 L353.7,583.7 L354.8,581.1 L355.9,578.4 L357.0,575.7 L358.2,573.0 L359.3,570.3 L360.4,567.5 L361.5,564.8 L362.7,562.0 L363.8,559.3 L364.9,556.5 L366.0,553.8 L367.1,551.1 L368.3,548.5 L369.4,545.9 L370.5,543.3 L371.6,540.8 L372.8,538.3 L373.9,535.9 L375.0,533.6 L376.1,531.4 L377.2,529.3 L378.4,527.2 L379.5,525.3 L380.6,523.5 L381.7,521.8 L382.9,520.3 L384.0,518.9 L385.1,517.6 L386.2,516.5 L387.3,515.5 L388.5,514.6 L389.6,514.0 L390.7,513.4 L391.8,513.1 L393.0,512.9 L394.1,512.9 L395.2,513.0 L396.3,513.3 L397.4,513.7 L398.6,514.3 L399.7,515.0 L400.8,515.9 L401.9,516.9 L403.1,518.0 L404.2,519.3 L405.3,520.7 L406.4,522.2 L407.5,523.9 L408.7,525.6 L409.8,527.5 L410.9,529.5 L412.0,531.5 L413.1,533.6 L414.3,535.8 L415.4,538.1 L416.5,540.5 L417.6,542.9 L418.8,545.3 L419.9,547.9 L421.0,550.4 L422.1,553.0 L423.2,555.6 L424.4,558.2 L425.5,560.8 L426.6,563.5 L427.7,566.1 L428.9,568.7 L430.0,571.4 L431.1,574.0 L432.2,576.6 L433.3,579.2 L434.5,581.7 L435.6,584.2 L436.7,586.7 L437.8,589.2 L439.0,591.6 L440.1,594.0 L441.2,596.4 L442.3,598.7 L443.4,600.9 L444.6,603.1 L445.7,605.3 L446.8,607.4 L447.9,609.5 L449.1,611.5 L450.2,613.5 L451.3,615.4 L452.4,617.3 L453.5,619.1 L454.7,620.9 L455.8,622.6 L456.9,624.2 L458.0,625.9 L459.1,627.4 L460.3,629.0 L461.4,630.4 L462.5,631.9 L463.6,633.2 L464.8,634.6 L465.9,635.9 L467.0,637.1 L468.1,638.3 L469.2,639.5 L470.4,640.6 L471.5,641.7 L472.6,642.7 L473.7,643.7 L474.9,644.7 L476.0,645.6 L477.1,646.5 L478.2,647.4 L479.3,648.2 L480.5,649.0 L481.6,649.8 L482.7,650.6 L483.8,651.3 L485.0,652.0 L486.1,652.6 L487.2,653.3 L488.3,653.9 L489.4,654.5 L490.6,655.0 L491.7,655.6 L492.8,656.1 L493.9,656.6 L495.1,657.1 L496.2,657.5 L497.3,658.0 L498.4,658.4 L499.5,658.8 L500.7,659.2 L501.8,659.6 L502.9,659.9 L504.0,660.3 L505.2,660.6 L506.3,660.9 L507.4,661.2 L508.5,661.5 L509.6,661.8 L510.8,662.1 L511.9,662.3 L513.0,662.6 L514.1,662.8 L515.2,663.0 L516.4,663.2 L517.5,663.4 L518.6,663.6 L519.7,663.8 L520.9,664.0 L522.0,664.2 L523.1,664.4 L524.2,664.5 L525.3,664.7 L526.5,664.8 L527.6,665.0 L528.7,665.1 L529.8,665.2 L531.0,665.3 L532.1,665.5 L533.2,665.6 L534.3,665.7 L535.4,665.8 L536.6,665.9 L537.7,666.0 L538.8,666.1 L539.9,666.2 L541.1,666.2 L542.2,666.3 L543.3,666.4 L544.4,666.5 L545.5,666.5 L546.7,666.6 L547.8,666.7 L548.9,666.7 L550.0,666.8 L551.2,666.9 L552.3,666.9 L553.4,667.0 L554.5,667.0 L555.6,667.1 L556.8,667.1 L557.9,667.1 L559.0,667.2 L560.1,667.2 L561.3,667.3 L562.4,667.3 L563.5,667.3 L564.6,667.4 L565.7,667.4 L566.9,667.4 L568.0,667.5 L569.1,667.5 L570.2,667.5 L571.4,667.5 L572.5,667.6 L573.6,667.6 L574.7,667.6 L575.8,667.6 L577.0,667.6 L578.1,667.7 L579.2,667.7 L580.3,667.7 L581.4,667.7 L582.6,667.7 L583.7,667.8 L584.8,667.8 L585.9,667.8 L587.1,667.8 L588.2,667.8 L589.3,667.8 L590.4,667.8 L591.5,667.8 L592.7,667.9 L593.8,667.9 L594.9,667.9 L596.0,667.9 L597.2,667.9 L598.3,667.9 L599.4,667.9 L600.5,667.9 L601.6,667.9 L602.8,667.9 L603.9,667.9 L605.0,667.9 L606.1,668.0 L607.3,668.0 L608.4,668.0 L609.5,668.0 L610.6,668.0 L611.7,668.0 L612.9,668.0 L614.0,668.0 L615.1,668.0 L616.2,668.0 L617.4,668.0 L618.5,668.0 L619.6,668.0 L620.7,668.0 L621.8,668.0 L623.0,668.0 L624.1,668.0 L625.2,668.0 L626.3,668.0 L627.5,668.0 L628.6,668.0 L629.7,668.0 L630.8,668.0 L631.9,668.0 L633.1,668.1 L634.2,668.1 L635.3,668.1 L636.4,668.1 L637.5,668.1 L638.7,668.1 L639.8,668.1 L640.9,668.1 L642.0,668.1 L643.2,668.1 L644.3,668.1 L645.4,668.1 L646.5,668.1 L647.6,668.1 L648.8,668.1 L649.9,668.1 L651.0,668.1 L652.1,668.1 L653.3,668.1 L654.4,668.1 L655.5,668.1 L655.5,668.1 Z" fill="rgb(20,120,240)" fill-opacity="0.2"/>
</g>
<rect x="72.0" y="439.9" width="583.6" height="228.2" fill="none" stroke="#222" stroke-width="1.4"/>
<g clip-path="url(#dclip)">
<path d="M72.1,432.9 L73.2,432.9 L74.3,432.9 L75.4,432.9 L76.5,432.9 L77.7,432.9 L78.8,432.9 L79.9,432.9 L81.0,432.9 L82.2,432.9 L83.3,432.9 L84.4,432.9 L85.5,432.9 L86.6,432.9 L87.8,432.9 L88.9,432.9 L90.0,432.9 L91.1,432.9 L92.3,432.9 L93.4,432.9 L94.5,432.9 L95.6,432.9 L96.7,432.9 L97.9,432.9 L99.0,432.9 L100.1,432.9 L101.2,432.9 L102.4,432.9 L103.5,432.9 L104.6,432.9 L105.7,432.9 L106.8,432.9 L108.0,432.9 L109.1,432.9 L110.2,432.9 L111.3,432.9 L112.5,432.9 L113.6,432.9 L114.7,432.9 L115.8,432.9 L116.9,432.9 L118.1,432.9 L119.2,432.9 L120.3,432.9 L121.4,432.9 L122.5,432.9 L123.7,432.9 L124.8,434.3 L125.9,444.8 L127.0,454.9 L128.2,464.5 L129.3,473.6 L130.4,482.4 L131.5,490.7 L132.6,498.7 L133.8,506.4 L134.9,513.6 L136.0,520.6 L137.1,527.2 L138.3,533.6 L139.4,539.6 L140.5,545.4 L141.6,550.9 L142.7,556.2 L143.9,561.2 L145.0,566.0 L146.1,570.6 L147.2,575.0 L148.4,579.2 L149.5,583.2 L150.6,587.0 L151.7,590.7 L152.8,594.2 L154.0,597.5 L155.1,600.7 L156.2,603.7 L157.3,606.6 L158.5,609.4 L159.6,612.0 L160.7,614.5 L161.8,617.0 L162.9,619.3 L164.1,621.5 L165.2,623.6 L166.3,625.6 L167.4,627.5 L168.6,629.3 L169.7,631.0 L170.8,632.7 L171.9,634.3 L173.0,635.8 L174.2,637.3 L175.3,638.7 L176.4,640.0 L177.5,641.3 L178.7,642.5 L179.8,643.6 L180.9,644.7 L182.0,645.8 L183.1,646.8 L184.3,647.7 L185.4,648.7 L186.5,649.5 L187.6,650.4 L188.7,651.2 L189.9,651.9 L191.0,652.7 L192.1,653.3 L193.2,654.0 L194.4,654.6 L195.5,655.3 L196.6,655.8 L197.7,656.4 L198.8,656.9 L200.0,657.4 L201.1,657.9 L202.2,658.4 L203.3,658.8 L204.5,659.2 L205.6,659.6 L206.7,660.0 L207.8,660.4 L208.9,660.7 L210.1,661.0 L211.2,661.4 L212.3,661.7 L213.4,662.0 L214.6,662.2 L215.7,662.5 L216.8,662.7 L217.9,663.0 L219.0,663.2 L220.2,663.4 L221.3,663.6 L222.4,663.8 L223.5,664.0 L224.7,664.2 L225.8,664.4 L226.9,664.6 L228.0,664.7 L229.1,664.9 L230.3,665.0 L231.4,665.2 L232.5,665.3 L233.6,665.4 L234.8,665.5 L235.9,665.7 L237.0,665.8 L238.1,665.9 L239.2,666.0 L240.4,666.1 L241.5,666.2 L242.6,666.2 L243.7,666.3 L244.8,666.4 L246.0,666.5 L247.1,666.6 L248.2,666.6 L249.3,666.7 L250.5,666.8 L251.6,666.8 L252.7,666.9 L253.8,666.9 L254.9,667.0 L256.1,667.0 L257.2,667.1 L258.3,667.1 L259.4,667.2 L260.6,667.2 L261.7,667.3 L262.8,667.3 L263.9,667.3 L265.0,667.4 L266.2,667.4 L267.3,667.4 L268.4,667.5 L269.5,667.5 L270.7,667.5 L271.8,667.5 L272.9,667.6 L274.0,667.6 L275.1,667.6 L276.3,667.6 L277.4,667.7 L278.5,667.7 L279.6,667.7 L280.8,667.7 L281.9,667.7 L283.0,667.7 L284.1,667.8 L285.2,667.8 L286.4,667.8 L287.5,667.8 L288.6,667.8 L289.7,667.8 L290.9,667.8 L292.0,667.9 L293.1,667.9 L294.2,667.9 L295.3,667.9 L296.5,667.9 L297.6,667.9 L298.7,667.9 L299.8,667.9 L300.9,667.9 L302.1,667.9 L303.2,667.9 L304.3,668.0 L305.4,668.0 L306.6,668.0 L307.7,668.0 L308.8,668.0 L309.9,668.0 L311.0,668.0 L312.2,668.0 L313.3,668.0 L314.4,668.0 L315.5,668.0 L316.7,668.0 L317.8,668.0 L318.9,668.0 L320.0,668.0 L321.1,668.0 L322.3,668.0 L323.4,668.0 L324.5,668.0 L325.6,668.0 L326.8,668.0 L327.9,668.0 L329.0,668.0 L330.1,668.0 L331.2,668.1 L332.4,668.1 L333.5,668.1 L334.6,668.1 L335.7,668.1 L336.9,668.1 L338.0,668.1 L339.1,668.1 L340.2,668.1 L341.3,668.1 L342.5,668.1 L343.6,668.1 L344.7,668.1 L345.8,668.1 L347.0,668.1 L348.1,668.1 L349.2,668.1 L350.3,668.1 L351.4,668.1 L352.6,668.1 L353.7,668.1 L354.8,668.1 L355.9,668.1 L357.0,668.1 L358.2,668.1 L359.3,668.1 L360.4,668.1 L361.5,668.1 L362.7,668.1 L363.8,668.1 L364.9,668.1 L366.0,668.1 L367.1,668.1 L368.3,668.1 L369.4,668.1 L370.5,668.1 L371.6,668.1 L372.8,668.1 L373.9,668.1 L375.0,668.1 L376.1,668.1 L377.2,668.1 L378.4,668.1 L379.5,668.1 L380.6,668.1 L381.7,668.1 L382.9,668.1 L384.0,668.1 L385.1,668.1 L386.2,668.1 L387.3,668.1 L388.5,668.1 L389.6,668.1 L390.7,668.1 L391.8,668.1 L393.0,668.1 L394.1,668.1 L395.2,668.1 L396.3,668.1 L397.4,668.1 L398.6,668.1 L399.7,668.1 L400.8,668.1 L401.9,668.1 L403.1,668.1 L404.2,668.1 L405.3,668.1 L406.4,668.1 L407.5,668.1 L408.7,668.1 L409.8,668.1 L410.9,668.1 L412.0,668.1 L413.1,668.1 L414.3,668.1 L415.4,668.1 L416.5,668.1 L417.6,668.1 L418.8,668.1 L419.9,668.1 L421.0,668.1 L422.1,668.1 L423.2,668.1 L424.4,668.1 L425.5,668.1 L426.6,668.1 L427.7,668.1 L428.9,668.1 L430.0,668.1 L431.1,668.1 L432.2,668.1 L433.3,668.1 L434.5,668.1 L435.6,668.1 L436.7,668.1 L437.8,668.1 L439.0,668.1 L440.1,668.1 L441.2,668.1 L442.3,668.1 L443.4,668.1 L444.6,668.1 L445.7,668.1 L446.8,668.1 L447.9,668.1 L449.1,668.1 L450.2,668.1 L451.3,668.1 L452.4,668.1 L453.5,668.1 L454.7,668.1 L455.8,668.1 L456.9,668.1 L458.0,668.1 L459.1,668.1 L460.3,668.1 L461.4,668.1 L462.5,668.1 L463.6,668.1 L464.8,668.1 L465.9,668.1 L467.0,668.1 L468.1,668.1 L469.2,668.1 L470.4,668.1 L471.5,668.1 L472.6,668.1 L473.7,668.1 L474.9,668.1 L476.0,668.1 L477.1,668.1 L478.2,668.1 L479.3,668.1 L480.5,668.1 L481.6,668.1 L482.7,668.1 L483.8,668.1 L485.0,668.1 L486.1,668.1 L487.2,668.1 L488.3,668.1 L489.4,668.1 L490.6,668.1 L491.7,668.1 L492.8,668.1 L493.9,668.1 L495.1,668.1 L496.2,668.1 L497.3,668.1 L498.4,668.1 L499.5,668.1 L500.7,668.1 L501.8,668.1 L502.9,668.1 L504.0,668.1 L505.2,668.1 L506.3,668.1 L507.4,668.1 L508.5,668.1 L509.6,668.1 L510.8,668.1 L511.9,668.1 L513.0,668.1 L514.1,668.1 L515.2,668.1 L516.4,668.1 L517.5,668.1 L518.6,668.1 L519.7,668.1 L520.9,668.1 L522.0,668.1 L523.1,668.1 L524.2,668.1 L525.3,668.1 L526.5,668.1 L527.6,668.1 L528.7,668.1 L529.8,668.1 L531.0,668.1 L532.1,668.1 L533.2,668.1 L534.3,668.1 L535.4,668.1 L536.6,668.1 L537.7,668.1 L538.8,668.1 L539.9,668.1 L541.1,668.1 L542.2,668.1 L543.3,668.1 L544.4,668.1 L545.5,668.1 L546.7,668.1 L547.8,668.1 L548.9,668.1 L550.0,668.1 L551.2,668.1 L552.3,668.1 L553.4,668.1 L554.5,668.1 L555.6,668.1 L556.8,668.1 L557.9,668.1 L559.0,668.1 L560.1,668.1 L561.3,668.1 L562.4,668.1 L563.5,668.1 L564.6,668.1 L565.7,668.1 L566.9,668.1 L568.0,668.1 L569.1,668.1 L570.2,668.1 L571.4,668.1 L572.5,668.1 L573.6,668.1 L574.7,668.1 L575.8,668.1 L577.0,668.1 L578.1,668.1 L579.2,668.1 L580.3,668.1 L581.4,668.1 L582.6,668.1 L583.7,668.1 L584.8,668.1 L585.9,668.1 L587.1,668.1 L588.2,668.1 L589.3,668.1 L590.4,668.1 L591.5,668.1 L592.7,668.1 L593.8,668.1 L594.9,668.1 L596.0,668.1 L597.2,668.1 L598.3,668.1 L599.4,668.1 L600.5,668.1 L601.6,668.1 L602.8,668.1 L603.9,668.1 L605.0,668.1 L606.1,668.1 L607.3,668.1 L608.4,668.1 L609.5,668.1 L610.6,668.1 L611.7,668.1 L612.9,668.1 L614.0,668.1 L615.1,668.1 L616.2,668.1 L617.4,668.1 L618.5,668.1 L619.6,668.1 L620.7,668.1 L621.8,668.1 L623.0,668.1 L624.1,668.1 L625.2,668.1 L626.3,668.1 L627.5,668.1 L628.6,668.1 L629.7,668.1 L630.8,668.1 L631.9,668.1 L633.1,668.1 L634.2,668.1 L635.3,668.1 L636.4,668.1 L637.5,668.1 L638.7,668.1 L639.8,668.1 L640.9,668.1 L642.0,668.1 L643.2,668.1 L644.3,668.1 L645.4,668.1 L646.5,668.1 L647.6,668.1 L648.8,668.1 L649.9,668.1 L651.0,668.1 L652.1,668.1 L653.3,668.1 L654.4,668.1 L655.5,668.1" fill="none" stroke="#10e4f0" stroke-width="1"/>
<path d="M72.1,668.1 L73.2,668.1 L74.3,668.1 L75.4,668.1 L76.5,668.1 L77.7,668.1 L78.8,668.1 L79.9,668.1 L81.0,668.1 L82.2,668.1 L83.3,668.1 L84.4,668.1 L85.5,668.1 L86.6,668.1 L87.8,668.1 L88.9,668.1 L90.0,668.1 L91.1,668.1 L92.3,668.1 L93.4,668.1 L94.5,668.1 L95.6,668.1 L96.7,668.1 L97.9,668.1 L99.0,668.1 L100.1,668.1 L101.2,668.1 L102.4,668.1 L103.5,668.1 L104.6,668.1 L105.7,668.1 L106.8,668.1 L108.0,668.1 L109.1,668.1 L110.2,668.1 L111.3,668.1 L112.5,668.1 L113.6,668.1 L114.7,668.1 L115.8,668.1 L116.9,668.1 L118.1,668.1 L119.2,668.1 L120.3,668.1 L121.4,668.1 L122.5,668.1 L123.7,668.1 L124.8,668.1 L125.9,668.1 L127.0,668.1 L128.2,668.1 L129.3,668.1 L130.4,668.1 L131.5,668.1 L132.6,668.1 L133.8,668.1 L134.9,668.1 L136.0,668.1 L137.1,668.1 L138.3,668.1 L139.4,668.1 L140.5,668.1 L141.6,668.1 L142.7,668.1 L143.9,668.1 L145.0,668.1 L146.1,668.1 L147.2,668.1 L148.4,668.1 L149.5,668.1 L150.6,668.1 L151.7,668.1 L152.8,668.1 L154.0,668.1 L155.1,668.1 L156.2,668.1 L157.3,668.1 L158.5,668.1 L159.6,668.1 L160.7,668.1 L161.8,668.1 L162.9,668.1 L164.1,668.0 L165.2,668.0 L166.3,668.0 L167.4,668.0 L168.6,668.0 L169.7,668.0 L170.8,668.0 L171.9,668.0 L173.0,668.0 L174.2,668.0 L175.3,668.0 L176.4,668.0 L177.5,668.0 L178.7,668.0 L179.8,668.0 L180.9,668.0 L182.0,668.0 L183.1,668.0 L184.3,668.0 L185.4,668.0 L186.5,668.0 L187.6,668.0 L188.7,668.0 L189.9,668.0 L191.0,667.9 L192.1,667.9 L193.2,667.9 L194.4,667.9 L195.5,667.9 L196.6,667.9 L197.7,667.9 L198.8,667.9 L200.0,667.9 L201.1,667.9 L202.2,667.9 L203.3,667.8 L204.5,667.8 L205.6,667.8 L206.7,667.8 L207.8,667.8 L208.9,667.8 L210.1,667.8 L211.2,667.8 L212.3,667.7 L213.4,667.7 L214.6,667.7 L215.7,667.7 L216.8,667.7 L217.9,667.6 L219.0,667.6 L220.2,667.6 L221.3,667.6 L222.4,667.6 L223.5,667.5 L224.7,667.5 L225.8,667.5 L226.9,667.4 L228.0,667.4 L229.1,667.4 L230.3,667.3 L231.4,667.3 L232.5,667.3 L233.6,667.2 L234.8,667.2 L235.9,667.1 L237.0,667.1 L238.1,667.1 L239.2,667.0 L240.4,667.0 L241.5,666.9 L242.6,666.8 L243.7,666.8 L244.8,666.7 L246.0,666.7 L247.1,666.6 L248.2,666.5 L249.3,666.4 L250.5,666.4 L251.6,666.3 L252.7,666.2 L253.8,666.1 L254.9,666.0 L256.1,665.9 L257.2,665.8 L258.3,665.7 L259.4,665.6 L260.6,665.5 L261.7,665.4 L262.8,665.2 L263.9,665.1 L265.0,665.0 L266.2,664.8 L267.3,664.7 L268.4,664.5 L269.5,664.3 L270.7,664.2 L271.8,664.0 L272.9,663.8 L274.0,663.6 L275.1,663.4 L276.3,663.2 L277.4,662.9 L278.5,662.7 L279.6,662.5 L280.8,662.2 L281.9,661.9 L283.0,661.6 L284.1,661.3 L285.2,661.0 L286.4,660.7 L287.5,660.4 L288.6,660.0 L289.7,659.6 L290.9,659.2 L292.0,658.8 L293.1,658.4 L294.2,658.0 L295.3,657.5 L296.5,657.0 L297.6,656.5 L298.7,656.0 L299.8,655.5 L300.9,654.9 L302.1,654.3 L303.2,653.7 L304.3,653.0 L305.4,652.4 L306.6,651.7 L307.7,650.9 L308.8,650.2 L309.9,649.4 L311.0,648.5 L312.2,647.7 L313.3,646.8 L314.4,645.9 L315.5,644.9 L316.7,643.9 L317.8,642.8 L318.9,641.8 L320.0,640.6 L321.1,639.5 L322.3,638.3 L323.4,637.0 L324.5,635.7 L325.6,634.3 L326.8,632.9 L327.9,631.5 L329.0,630.0 L330.1,628.4 L331.2,626.8 L332.4,625.2 L333.5,623.5 L334.6,621.7 L335.7,619.9 L336.9,618.0 L338.0,616.1 L339.1,614.1 L340.2,612.1 L341.3,610.0 L342.5,607.9 L343.6,605.7 L344.7,603.4 L345.8,601.1 L347.0,598.8 L348.1,596.4 L349.2,593.9 L350.3,591.4 L351.4,588.9 L352.6,586.3 L353.7,583.7 L354.8,581.1 L355.9,578.4 L357.0,575.7 L358.2,573.0 L359.3,570.3 L360.4,567.5 L361.5,564.8 L362.7,562.0 L363.8,559.3 L364.9,556.5 L366.0,553.8 L367.1,551.1 L368.3,548.5 L369.4,545.9 L370.5,543.3 L371.6,540.8 L372.8,538.3 L373.9,535.9 L375.0,533.6 L376.1,531.4 L377.2,529.3 L378.4,527.2 L379.5,525.3 L380.6,523.5 L381.7,521.8 L382.9,520.3 L384.0,518.9 L385.1,517.6 L386.2,516.5 L387.3,515.5 L388.5,514.6 L389.6,514.0 L390.7,513.4 L391.8,513.1 L393.0,512.9 L394.1,512.9 L395.2,513.0 L396.3,513.3 L397.4,513.7 L398.6,514.3 L399.7,515.0 L400.8,515.9 L401.9,516.9 L403.1,518.0 L404.2,519.3 L405.3,520.7 L406.4,522.2 L407.5,523.9 L408.7,525.6 L409.8,527.5 L410.9,529.5 L412.0,531.5 L413.1,533.6 L414.3,535.8 L415.4,538.1 L416.5,540.5 L417.6,542.9 L418.8,545.3 L419.9,547.9 L421.0,550.4 L422.1,553.0 L423.2,555.6 L424.4,558.2 L425.5,560.8 L426.6,563.5 L427.7,566.1 L428.9,568.7 L430.0,571.4 L431.1,574.0 L432.2,576.6 L433.3,579.2 L434.5,581.7 L435.6,584.2 L436.7,586.7 L437.8,589.2 L439.0,591.6 L440.1,594.0 L441.2,596.4 L442.3,598.7 L443.4,600.9 L444.6,603.1 L445.7,605.3 L446.8,607.4 L447.9,609.5 L449.1,611.5 L450.2,613.5 L451.3,615.4 L452.4,617.3 L453.5,619.1 L454.7,620.9 L455.8,622.6 L456.9,624.2 L458.0,625.9 L459.1,627.4 L460.3,629.0 L461.4,630.4 L462.5,631.9 L463.6,633.2 L464.8,634.6 L465.9,635.9 L467.0,637.1 L468.1,638.3 L469.2,639.5 L470.4,640.6 L471.5,641.7 L472.6,642.7 L473.7,643.7 L474.9,644.7 L476.0,645.6 L477.1,646.5 L478.2,647.4 L479.3,648.2 L480.5,649.0 L481.6,649.8 L482.7,650.6 L483.8,651.3 L485.0,652.0 L486.1,652.6 L487.2,653.3 L488.3,653.9 L489.4,654.5 L490.6,655.0 L491.7,655.6 L492.8,656.1 L493.9,656.6 L495.1,657.1 L496.2,657.5 L497.3,658.0 L498.4,658.4 L499.5,658.8 L500.7,659.2 L501.8,659.6 L502.9,659.9 L504.0,660.3 L505.2,660.6 L506.3,660.9 L507.4,661.2 L508.5,661.5 L509.6,661.8 L510.8,662.1 L511.9,662.3 L513.0,662.6 L514.1,662.8 L515.2,663.0 L516.4,663.2 L517.5,663.4 L518.6,663.6 L519.7,663.8 L520.9,664.0 L522.0,664.2 L523.1,664.4 L524.2,664.5 L525.3,664.7 L526.5,664.8 L527.6,665.0 L528.7,665.1 L529.8,665.2 L531.0,665.3 L532.1,665.5 L533.2,665.6 L534.3,665.7 L535.4,665.8 L536.6,665.9 L537.7,666.0 L538.8,666.1 L539.9,666.2 L541.1,666.2 L542.2,666.3 L543.3,666.4 L544.4,666.5 L545.5,666.5 L546.7,666.6 L547.8,666.7 L548.9,666.7 L550.0,666.8 L551.2,666.9 L552.3,666.9 L553.4,667.0 L554.5,667.0 L555.6,667.1 L556.8,667.1 L557.9,667.1 L559.0,667.2 L560.1,667.2 L561.3,667.3 L562.4,667.3 L563.5,667.3 L564.6,667.4 L565.7,667.4 L566.9,667.4 L568.0,667.5 L569.1,667.5 L570.2,667.5 L571.4,667.5 L572.5,667.6 L573.6,667.6 L574.7,667.6 L575.8,667.6 L577.0,667.6 L578.1,667.7 L579.2,667.7 L580.3,667.7 L581.4,667.7 L582.6,667.7 L583.7,667.8 L584.8,667.8 L585.9,667.8 L587.1,667.8 L588.2,667.8 L589.3,667.8 L590.4,667.8 L591.5,667.8 L592.7,667.9 L593.8,667.9 L594.9,667.9 L596.0,667.9 L597.2,667.9 L598.3,667.9 L599.4,667.9 L600.5,667.9 L601.6,667.9 L602.8,667.9 L603.9,667.9 L605.0,667.9 L606.1,668.0 L607.3,668.0 L608.4,668.0 L609.5,668.0 L610.6,668.0 L611.7,668.0 L612.9,668.0 L614.0,668.0 L615.1,668.0 L616.2,668.0 L617.4,668.0 L618.5,668.0 L619.6,668.0 L620.7,668.0 L621.8,668.0 L623.0,668.0 L624.1,668.0 L625.2,668.0 L626.3,668.0 L627.5,668.0 L628.6,668.0 L629.7,668.0 L630.8,668.0 L631.9,668.0 L633.1,668.1 L634.2,668.1 L635.3,668.1 L636.4,668.1 L637.5,668.1 L638.7,668.1 L639.8,668.1 L640.9,668.1 L642.0,668.1 L643.2,668.1 L644.3,668.1 L645.4,668.1 L646.5,668.1 L647.6,668.1 L648.8,668.1 L649.9,668.1 L651.0,668.1 L652.1,668.1 L653.3,668.1 L654.4,668.1 L655.5,668.1" fill="none" stroke="#3b8fe8" stroke-width="1"/>
<path d="M72.1,668.1 L73.2,668.1 L74.3,668.1 L75.4,668.1 L76.5,668.1 L77.7,668.1 L78.8,668.1 L79.9,668.1 L81.0,668.1 L82.2,668.1 L83.3,668.1 L84.4,668.1 L85.5,668.1 L86.6,668.1 L87.8,668.1 L88.9,668.1 L90.0,668.1 L91.1,668.1 L92.3,668.1 L93.4,668.1 L94.5,668.1 L95.6,668.1 L96.7,668.1 L97.9,668.1 L99.0,668.1 L100.1,668.1 L101.2,668.1 L102.4,668.1 L103.5,668.1 L104.6,668.1 L105.7,668.1 L106.8,668.1 L108.0,668.1 L109.1,668.1 L110.2,668.1 L111.3,668.1 L112.5,668.1 L113.6,668.1 L114.7,668.1 L115.8,668.1 L116.9,668.1 L118.1,668.1 L119.2,668.1 L120.3,668.1 L121.4,668.1 L122.5,668.1 L123.7,668.1 L124.8,668.1 L125.9,668.1 L127.0,668.1 L128.2,668.1 L129.3,668.1 L130.4,668.1 L131.5,668.1 L132.6,668.1 L133.8,668.1 L134.9,668.1 L136.0,668.1 L137.1,668.1 L138.3,668.1 L139.4,668.1 L140.5,668.1 L141.6,668.1 L142.7,668.1 L143.9,668.0 L145.0,668.0 L146.1,668.0 L147.2,668.0 L148.4,668.0 L149.5,668.0 L150.6,668.0 L151.7,668.0 L152.8,668.0 L154.0,668.0 L155.1,668.0 L156.2,668.0 L157.3,668.0 L158.5,668.0 L159.6,668.0 L160.7,668.0 L161.8,668.0 L162.9,668.0 L164.1,668.0 L165.2,668.0 L166.3,668.0 L167.4,668.0 L168.6,668.0 L169.7,668.0 L170.8,667.9 L171.9,667.9 L173.0,667.9 L174.2,667.9 L175.3,667.9 L176.4,667.9 L177.5,667.9 L178.7,667.9 L179.8,667.9 L180.9,667.9 L182.0,667.9 L183.1,667.8 L184.3,667.8 L185.4,667.8 L186.5,667.8 L187.6,667.8 L188.7,667.8 L189.9,667.8 L191.0,667.7 L192.1,667.7 L193.2,667.7 L194.4,667.7 L195.5,667.7 L196.6,667.7 L197.7,667.6 L198.8,667.6 L200.0,667.6 L201.1,667.6 L202.2,667.5 L203.3,667.5 L204.5,667.5 L205.6,667.5 L206.7,667.4 L207.8,667.4 L208.9,667.4 L210.1,667.3 L211.2,667.3 L212.3,667.3 L213.4,667.2 L214.6,667.2 L215.7,667.1 L216.8,667.1 L217.9,667.0 L219.0,667.0 L220.2,666.9 L221.3,666.9 L222.4,666.8 L223.5,666.8 L224.7,666.7 L225.8,666.7 L226.9,666.6 L228.0,666.5 L229.1,666.4 L230.3,666.4 L231.4,666.3 L232.5,666.2 L233.6,666.1 L234.8,666.0 L235.9,665.9 L237.0,665.8 L238.1,665.7 L239.2,665.6 L240.4,665.5 L241.5,665.4 L242.6,665.3 L243.7,665.2 L244.8,665.0 L246.0,664.9 L247.1,664.8 L248.2,664.6 L249.3,664.5 L250.5,664.3 L251.6,664.2 L252.7,664.0 L253.8,663.8 L254.9,663.6 L256.1,663.4 L257.2,663.2 L258.3,663.0 L259.4,662.8 L260.6,662.6 L261.7,662.4 L262.8,662.1 L263.9,661.9 L265.0,661.6 L266.2,661.4 L267.3,661.1 L268.4,660.8 L269.5,660.6 L270.7,660.3 L271.8,660.0 L272.9,659.6 L274.0,659.3 L275.1,659.0 L276.3,658.7 L277.4,658.3 L278.5,658.0 L279.6,657.6 L280.8,657.2 L281.9,656.8 L283.0,656.5 L284.1,656.1 L285.2,655.7 L286.4,655.3 L287.5,654.9 L288.6,654.4 L289.7,654.0 L290.9,653.6 L292.0,653.2 L293.1,652.7 L294.2,652.3 L295.3,651.8 L296.5,651.4 L297.6,651.0 L298.7,650.5 L299.8,650.1 L300.9,649.7 L302.1,649.3 L303.2,648.8 L304.3,648.4 L305.4,648.0 L306.6,647.6 L307.7,647.3 L308.8,646.9 L309.9,646.5 L311.0,646.2 L312.2,645.9 L313.3,645.5 L314.4,645.2 L315.5,645.0 L316.7,644.7 L317.8,644.5 L318.9,644.3 L320.0,644.1 L321.1,643.9 L322.3,643.8 L323.4,643.7 L324.5,643.6 L325.6,643.5 L326.8,643.5 L327.9,643.5 L329.0,643.5 L330.1,643.5 L331.2,643.6 L332.4,643.7 L333.5,643.8 L334.6,643.9 L335.7,644.1 L336.9,644.3 L338.0,644.5 L339.1,644.7 L340.2,645.0 L341.3,645.2 L342.5,645.5 L343.6,645.9 L344.7,646.2 L345.8,646.5 L347.0,646.9 L348.1,647.3 L349.2,647.6 L350.3,648.0 L351.4,648.4 L352.6,648.8 L353.7,649.3 L354.8,649.7 L355.9,650.1 L357.0,650.5 L358.2,651.0 L359.3,651.4 L360.4,651.8 L361.5,652.3 L362.7,652.7 L363.8,653.2 L364.9,653.6 L366.0,654.0 L367.1,654.4 L368.3,654.9 L369.4,655.3 L370.5,655.7 L371.6,656.1 L372.8,656.5 L373.9,656.8 L375.0,657.2 L376.1,657.6 L377.2,658.0 L378.4,658.3 L379.5,658.7 L380.6,659.0 L381.7,659.3 L382.9,659.6 L384.0,660.0 L385.1,660.3 L386.2,660.6 L387.3,660.8 L388.5,661.1 L389.6,661.4 L390.7,661.6 L391.8,661.9 L393.0,662.1 L394.1,662.4 L395.2,662.6 L396.3,662.8 L397.4,663.0 L398.6,663.2 L399.7,663.4 L400.8,663.6 L401.9,663.8 L403.1,664.0 L404.2,664.2 L405.3,664.3 L406.4,664.5 L407.5,664.6 L408.7,664.8 L409.8,664.9 L410.9,665.0 L412.0,665.2 L413.1,665.3 L414.3,665.4 L415.4,665.5 L416.5,665.6 L417.6,665.7 L418.8,665.8 L419.9,665.9 L421.0,666.0 L422.1,666.1 L423.2,666.2 L424.4,666.3 L425.5,666.4 L426.6,666.4 L427.7,666.5 L428.9,666.6 L430.0,666.7 L431.1,666.7 L432.2,666.8 L433.3,666.8 L434.5,666.9 L435.6,666.9 L436.7,667.0 L437.8,667.0 L439.0,667.1 L440.1,667.1 L441.2,667.2 L442.3,667.2 L443.4,667.3 L444.6,667.3 L445.7,667.3 L446.8,667.4 L447.9,667.4 L449.1,667.4 L450.2,667.5 L451.3,667.5 L452.4,667.5 L453.5,667.5 L454.7,667.6 L455.8,667.6 L456.9,667.6 L458.0,667.6 L459.1,667.7 L460.3,667.7 L461.4,667.7 L462.5,667.7 L463.6,667.7 L464.8,667.7 L465.9,667.8 L467.0,667.8 L468.1,667.8 L469.2,667.8 L470.4,667.8 L471.5,667.8 L472.6,667.8 L473.7,667.9 L474.9,667.9 L476.0,667.9 L477.1,667.9 L478.2,667.9 L479.3,667.9 L480.5,667.9 L481.6,667.9 L482.7,667.9 L483.8,667.9 L485.0,667.9 L486.1,668.0 L487.2,668.0 L488.3,668.0 L489.4,668.0 L490.6,668.0 L491.7,668.0 L492.8,668.0 L493.9,668.0 L495.1,668.0 L496.2,668.0 L497.3,668.0 L498.4,668.0 L499.5,668.0 L500.7,668.0 L501.8,668.0 L502.9,668.0 L504.0,668.0 L505.2,668.0 L506.3,668.0 L507.4,668.0 L508.5,668.0 L509.6,668.0 L510.8,668.0 L511.9,668.0 L513.0,668.1 L514.1,668.1 L515.2,668.1 L516.4,668.1 L517.5,668.1 L518.6,668.1 L519.7,668.1 L520.9,668.1 L522.0,668.1 L523.1,668.1 L524.2,668.1 L525.3,668.1 L526.5,668.1 L527.6,668.1 L528.7,668.1 L529.8,668.1 L531.0,668.1 L532.1,668.1 L533.2,668.1 L534.3,668.1 L535.4,668.1 L536.6,668.1 L537.7,668.1 L538.8,668.1 L539.9,668.1 L541.1,668.1 L542.2,668.1 L543.3,668.1 L544.4,668.1 L545.5,668.1 L546.7,668.1 L547.8,668.1 L548.9,668.1 L550.0,668.1 L551.2,668.1 L552.3,668.1 L553.4,668.1 L554.5,668.1 L555.6,668.1 L556.8,668.1 L557.9,668.1 L559.0,668.1 L560.1,668.1 L561.3,668.1 L562.4,668.1 L563.5,668.1 L564.6,668.1 L565.7,668.1 L566.9,668.1 L568.0,668.1 L569.1,668.1 L570.2,668.1 L571.4,668.1 L572.5,668.1 L573.6,668.1 L574.7,668.1 L575.8,668.1 L577.0,668.1 L578.1,668.1 L579.2,668.1 L580.3,668.1 L581.4,668.1 L582.6,668.1 L583.7,668.1 L584.8,668.1 L585.9,668.1 L587.1,668.1 L588.2,668.1 L589.3,668.1 L590.4,668.1 L591.5,668.1 L592.7,668.1 L593.8,668.1 L594.9,668.1 L596.0,668.1 L597.2,668.1 L598.3,668.1 L599.4,668.1 L600.5,668.1 L601.6,668.1 L602.8,668.1 L603.9,668.1 L605.0,668.1 L606.1,668.1 L607.3,668.1 L608.4,668.1 L609.5,668.1 L610.6,668.1 L611.7,668.1 L612.9,668.1 L614.0,668.1 L615.1,668.1 L616.2,668.1 L617.4,668.1 L618.5,668.1 L619.6,668.1 L620.7,668.1 L621.8,668.1 L623.0,668.1 L624.1,668.1 L625.2,668.1 L626.3,668.1 L627.5,668.1 L628.6,668.1 L629.7,668.1 L630.8,668.1 L631.9,668.1 L633.1,668.1 L634.2,668.1 L635.3,668.1 L636.4,668.1 L637.5,668.1 L638.7,668.1 L639.8,668.1 L640.9,668.1 L642.0,668.1 L643.2,668.1 L644.3,668.1 L645.4,668.1 L646.5,668.1 L647.6,668.1 L648.8,668.1 L649.9,668.1 L651.0,668.1 L652.1,668.1 L653.3,668.1 L654.4,668.1 L655.5,668.1" fill="none" stroke="#44aa55" stroke-width="1"/>
<path d="M72.1,667.7 L73.2,667.7 L74.3,667.7 L75.4,667.7 L76.5,667.7 L77.7,667.6 L78.8,667.6 L79.9,667.6 L81.0,667.6 L82.2,667.5 L83.3,667.5 L84.4,667.5 L85.5,667.5 L86.6,667.4 L87.8,667.4 L88.9,667.4 L90.0,667.3 L91.1,667.3 L92.3,667.3 L93.4,667.2 L94.5,667.2 L95.6,667.1 L96.7,667.1 L97.9,667.0 L99.0,667.0 L100.1,667.0 L101.2,666.9 L102.4,666.8 L103.5,666.8 L104.6,666.7 L105.7,666.7 L106.8,666.6 L108.0,666.5 L109.1,666.5 L110.2,666.4 L111.3,666.3 L112.5,666.2 L113.6,666.2 L114.7,666.1 L115.8,666.0 L116.9,665.9 L118.1,665.8 L119.2,665.7 L120.3,665.6 L121.4,665.5 L122.5,665.4 L123.7,665.3 L124.8,665.2 L125.9,665.1 L127.0,665.0 L128.2,664.9 L129.3,664.7 L130.4,664.6 L131.5,664.5 L132.6,664.4 L133.8,664.2 L134.9,664.1 L136.0,664.0 L137.1,663.8 L138.3,663.7 L139.4,663.5 L140.5,663.4 L141.6,663.3 L142.7,663.1 L143.9,663.0 L145.0,662.8 L146.1,662.7 L147.2,662.5 L148.4,662.4 L149.5,662.3 L150.6,662.1 L151.7,662.0 L152.8,661.9 L154.0,661.7 L155.1,661.6 L156.2,661.5 L157.3,661.3 L158.5,661.2 L159.6,661.1 L160.7,661.0 L161.8,660.9 L162.9,660.8 L164.1,660.8 L165.2,660.7 L166.3,660.6 L167.4,660.5 L168.6,660.5 L169.7,660.4 L170.8,660.4 L171.9,660.4 L173.0,660.4 L174.2,660.4 L175.3,660.4 L176.4,660.4 L177.5,660.4 L178.7,660.4 L179.8,660.4 L180.9,660.5 L182.0,660.5 L183.1,660.6 L184.3,660.6 L185.4,660.7 L186.5,660.8 L187.6,660.9 L188.7,661.0 L189.9,661.1 L191.0,661.2 L192.1,661.3 L193.2,661.4 L194.4,661.5 L195.5,661.6 L196.6,661.7 L197.7,661.9 L198.8,662.0 L200.0,662.1 L201.1,662.2 L202.2,662.4 L203.3,662.5 L204.5,662.6 L205.6,662.8 L206.7,662.9 L207.8,663.1 L208.9,663.2 L210.1,663.3 L211.2,663.5 L212.3,663.6 L213.4,663.7 L214.6,663.9 L215.7,664.0 L216.8,664.1 L217.9,664.3 L219.0,664.4 L220.2,664.5 L221.3,664.6 L222.4,664.7 L223.5,664.9 L224.7,665.0 L225.8,665.1 L226.9,665.2 L228.0,665.3 L229.1,665.4 L230.3,665.5 L231.4,665.6 L232.5,665.7 L233.6,665.8 L234.8,665.9 L235.9,665.9 L237.0,666.0 L238.1,666.1 L239.2,666.2 L240.4,666.3 L241.5,666.3 L242.6,666.4 L243.7,666.5 L244.8,666.5 L246.0,666.6 L247.1,666.7 L248.2,666.7 L249.3,666.8 L250.5,666.8 L251.6,666.9 L252.7,666.9 L253.8,667.0 L254.9,667.0 L256.1,667.1 L257.2,667.1 L258.3,667.2 L259.4,667.2 L260.6,667.2 L261.7,667.3 L262.8,667.3 L263.9,667.3 L265.0,667.4 L266.2,667.4 L267.3,667.4 L268.4,667.5 L269.5,667.5 L270.7,667.5 L271.8,667.5 L272.9,667.6 L274.0,667.6 L275.1,667.6 L276.3,667.6 L277.4,667.7 L278.5,667.7 L279.6,667.7 L280.8,667.7 L281.9,667.7 L283.0,667.7 L284.1,667.8 L285.2,667.8 L286.4,667.8 L287.5,667.8 L288.6,667.8 L289.7,667.8 L290.9,667.8 L292.0,667.9 L293.1,667.9 L294.2,667.9 L295.3,667.9 L296.5,667.9 L297.6,667.9 L298.7,667.9 L299.8,667.9 L300.9,667.9 L302.1,667.9 L303.2,667.9 L304.3,667.9 L305.4,668.0 L306.6,668.0 L307.7,668.0 L308.8,668.0 L309.9,668.0 L311.0,668.0 L312.2,668.0 L313.3,668.0 L314.4,668.0 L315.5,668.0 L316.7,668.0 L317.8,668.0 L318.9,668.0 L320.0,668.0 L321.1,668.0 L322.3,668.0 L323.4,668.0 L324.5,668.0 L325.6,668.0 L326.8,668.0 L327.9,668.0 L329.0,668.0 L330.1,668.0 L331.2,668.0 L332.4,668.1 L333.5,668.1 L334.6,668.1 L335.7,668.1 L336.9,668.1 L338.0,668.1 L339.1,668.1 L340.2,668.1 L341.3,668.1 L342.5,668.1 L343.6,668.1 L344.7,668.1 L345.8,668.1 L347.0,668.1 L348.1,668.1 L349.2,668.1 L350.3,668.1 L351.4,668.1 L352.6,668.1 L353.7,668.1 L354.8,668.1 L355.9,668.1 L357.0,668.1 L358.2,668.1 L359.3,668.1 L360.4,668.1 L361.5,668.1 L362.7,668.1 L363.8,668.1 L364.9,668.1 L366.0,668.1 L367.1,668.1 L368.3,668.1 L369.4,668.1 L370.5,668.1 L371.6,668.1 L372.8,668.1 L373.9,668.1 L375.0,668.1 L376.1,668.1 L377.2,668.1 L378.4,668.1 L379.5,668.1 L380.6,668.1 L381.7,668.1 L382.9,668.1 L384.0,668.1 L385.1,668.1 L386.2,668.1 L387.3,668.1 L388.5,668.1 L389.6,668.1 L390.7,668.1 L391.8,668.1 L393.0,668.1 L394.1,668.1 L395.2,668.1 L396.3,668.1 L397.4,668.1 L398.6,668.1 L399.7,668.1 L400.8,668.1 L401.9,668.1 L403.1,668.1 L404.2,668.1 L405.3,668.1 L406.4,668.1 L407.5,668.1 L408.7,668.1 L409.8,668.1 L410.9,668.1 L412.0,668.1 L413.1,668.1 L414.3,668.1 L415.4,668.1 L416.5,668.1 L417.6,668.1 L418.8,668.1 L419.9,668.1 L421.0,668.1 L422.1,668.1 L423.2,668.1 L424.4,668.1 L425.5,668.1 L426.6,668.1 L427.7,668.1 L428.9,668.1 L430.0,668.1 L431.1,668.1 L432.2,668.1 L433.3,668.1 L434.5,668.1 L435.6,668.1 L436.7,668.1 L437.8,668.1 L439.0,668.1 L440.1,668.1 L441.2,668.1 L442.3,668.1 L443.4,668.1 L444.6,668.1 L445.7,668.1 L446.8,668.1 L447.9,668.1 L449.1,668.1 L450.2,668.1 L451.3,668.1 L452.4,668.1 L453.5,668.1 L454.7,668.1 L455.8,668.1 L456.9,668.1 L458.0,668.1 L459.1,668.1 L460.3,668.1 L461.4,668.1 L462.5,668.1 L463.6,668.1 L464.8,668.1 L465.9,668.1 L467.0,668.1 L468.1,668.1 L469.2,668.1 L470.4,668.1 L471.5,668.1 L472.6,668.1 L473.7,668.1 L474.9,668.1 L476.0,668.1 L477.1,668.1 L478.2,668.1 L479.3,668.1 L480.5,668.1 L481.6,668.1 L482.7,668.1 L483.8,668.1 L485.0,668.1 L486.1,668.1 L487.2,668.1 L488.3,668.1 L489.4,668.1 L490.6,668.1 L491.7,668.1 L492.8,668.1 L493.9,668.1 L495.1,668.1 L496.2,668.1 L497.3,668.1 L498.4,668.1 L499.5,668.1 L500.7,668.1 L501.8,668.1 L502.9,668.1 L504.0,668.1 L505.2,668.1 L506.3,668.1 L507.4,668.1 L508.5,668.1 L509.6,668.1 L510.8,668.1 L511.9,668.1 L513.0,668.1 L514.1,668.1 L515.2,668.1 L516.4,668.1 L517.5,668.1 L518.6,668.1 L519.7,668.1 L520.9,668.1 L522.0,668.1 L523.1,668.1 L524.2,668.1 L525.3,668.1 L526.5,668.1 L527.6,668.1 L528.7,668.1 L529.8,668.1 L531.0,668.1 L532.1,668.1 L533.2,668.1 L534.3,668.1 L535.4,668.1 L536.6,668.1 L537.7,668.1 L538.8,668.1 L539.9,668.1 L541.1,668.1 L542.2,668.1 L543.3,668.1 L544.4,668.1 L545.5,668.1 L546.7,668.1 L547.8,668.1 L548.9,668.1 L550.0,668.1 L551.2,668.1 L552.3,668.1 L553.4,668.1 L554.5,668.1 L555.6,668.1 L556.8,668.1 L557.9,668.1 L559.0,668.1 L560.1,668.1 L561.3,668.1 L562.4,668.1 L563.5,668.1 L564.6,668.1 L565.7,668.1 L566.9,668.1 L568.0,668.1 L569.1,668.1 L570.2,668.1 L571.4,668.1 L572.5,668.1 L573.6,668.1 L574.7,668.1 L575.8,668.1 L577.0,668.1 L578.1,668.1 L579.2,668.1 L580.3,668.1 L581.4,668.1 L582.6,668.1 L583.7,668.1 L584.8,668.1 L585.9,668.1 L587.1,668.1 L588.2,668.1 L589.3,668.1 L590.4,668.1 L591.5,668.1 L592.7,668.1 L593.8,668.1 L594.9,668.1 L596.0,668.1 L597.2,668.1 L598.3,668.1 L599.4,668.1 L600.5,668.1 L601.6,668.1 L602.8,668.1 L603.9,668.1 L605.0,668.1 L606.1,668.1 L607.3,668.1 L608.4,668.1 L609.5,668.1 L610.6,668.1 L611.7,668.1 L612.9,668.1 L614.0,668.1 L615.1,668.1 L616.2,668.1 L617.4,668.1 L618.5,668.1 L619.6,668.1 L620.7,668.1 L621.8,668.1 L623.0,668.1 L624.1,668.1 L625.2,668.1 L626.3,668.1 L627.5,668.1 L628.6,668.1 L629.7,668.1 L630.8,668.1 L631.9,668.1 L633.1,668.1 L634.2,668.1 L635.3,668.1 L636.4,668.1 L637.5,668.1 L638.7,668.1 L639.8,668.1 L640.9,668.1 L642.0,668.1 L643.2,668.1 L644.3,668.1 L645.4,668.1 L646.5,668.1 L647.6,668.1 L648.8,668.1 L649.9,668.1 L651.0,668.1 L652.1,668.1 L653.3,668.1 L654.4,668.1 L655.5,668.1" fill="none" stroke="#d23a4a" stroke-width="1.2"/>
<path d="M72.1,432.9 L73.2,432.9 L74.3,432.9 L75.4,432.9 L76.5,432.9 L77.7,432.9 L78.8,432.9 L79.9,432.9 L81.0,432.9 L82.2,432.9 L83.3,432.9 L84.4,432.9 L85.5,432.9 L86.6,432.9 L87.8,432.9 L88.9,432.9 L90.0,432.9 L91.1,432.9 L92.3,432.9 L93.4,432.9 L94.5,432.9 L95.6,432.9 L96.7,432.9 L97.9,432.9 L99.0,432.9 L100.1,432.9 L101.2,432.9 L102.4,432.9 L103.5,432.9 L104.6,432.9 L105.7,432.9 L106.8,432.9 L108.0,432.9 L109.1,432.9 L110.2,432.9 L111.3,432.9 L112.5,432.9 L113.6,432.9 L114.7,432.9 L115.8,432.9 L116.9,432.9 L118.1,432.9 L119.2,432.9 L120.3,432.9 L121.4,432.9 L122.5,432.9 L123.7,432.9 L124.8,432.9 L125.9,441.8 L127.0,451.7 L128.2,461.2 L129.3,470.2 L130.4,478.9 L131.5,487.1 L132.6,494.9 L133.8,502.4 L134.9,509.6 L136.0,516.4 L137.1,522.9 L138.3,529.1 L139.4,535.0 L140.5,540.6 L141.6,546.0 L142.7,551.1 L143.9,556.0 L145.0,560.7 L146.1,565.1 L147.2,569.4 L148.4,573.4 L149.5,577.3 L150.6,581.0 L151.7,584.5 L152.8,587.8 L154.0,591.0 L155.1,594.0 L156.2,597.0 L157.3,599.7 L158.5,602.4 L159.6,604.9 L160.7,607.3 L161.8,609.6 L162.9,611.8 L164.1,613.9 L165.2,615.9 L166.3,617.9 L167.4,619.7 L168.6,621.5 L169.7,623.2 L170.8,624.8 L171.9,626.4 L173.0,627.9 L174.2,629.3 L175.3,630.7 L176.4,632.0 L177.5,633.2 L178.7,634.5 L179.8,635.6 L180.9,636.8 L182.0,637.8 L183.1,638.9 L184.3,639.9 L185.4,640.9 L186.5,641.8 L187.6,642.7 L188.7,643.6 L189.9,644.4 L191.0,645.2 L192.1,646.0 L193.2,646.7 L194.4,647.5 L195.5,648.2 L196.6,648.8 L197.7,649.5 L198.8,650.1 L200.0,650.7 L201.1,651.3 L202.2,651.8 L203.3,652.4 L204.5,652.9 L205.6,653.4 L206.7,653.9 L207.8,654.3 L208.9,654.8 L210.1,655.2 L211.2,655.6 L212.3,656.0 L213.4,656.3 L214.6,656.7 L215.7,657.0 L216.8,657.3 L217.9,657.6 L219.0,657.9 L220.2,658.2 L221.3,658.4 L222.4,658.7 L223.5,658.9 L224.7,659.1 L225.8,659.3 L226.9,659.5 L228.0,659.6 L229.1,659.8 L230.3,659.9 L231.4,660.0 L232.5,660.2 L233.6,660.2 L234.8,660.3 L235.9,660.4 L237.0,660.4 L238.1,660.5 L239.2,660.5 L240.4,660.5 L241.5,660.5 L242.6,660.5 L243.7,660.5 L244.8,660.4 L246.0,660.4 L247.1,660.3 L248.2,660.2 L249.3,660.1 L250.5,660.0 L251.6,659.8 L252.7,659.7 L253.8,659.5 L254.9,659.4 L256.1,659.2 L257.2,659.0 L258.3,658.7 L259.4,658.5 L260.6,658.2 L261.7,658.0 L262.8,657.7 L263.9,657.4 L265.0,657.0 L266.2,656.7 L267.3,656.3 L268.4,656.0 L269.5,655.6 L270.7,655.2 L271.8,654.7 L272.9,654.3 L274.0,653.8 L275.1,653.3 L276.3,652.8 L277.4,652.3 L278.5,651.7 L279.6,651.1 L280.8,650.5 L281.9,649.9 L283.0,649.3 L284.1,648.6 L285.2,647.9 L286.4,647.2 L287.5,646.5 L288.6,645.8 L289.7,645.0 L290.9,644.2 L292.0,643.4 L293.1,642.6 L294.2,641.7 L295.3,640.8 L296.5,639.9 L297.6,639.0 L298.7,638.1 L299.8,637.1 L300.9,636.1 L302.1,635.1 L303.2,634.1 L304.3,633.1 L305.4,632.0 L306.6,630.9 L307.7,629.8 L308.8,628.7 L309.9,627.6 L311.0,626.4 L312.2,625.2 L313.3,624.0 L314.4,622.8 L315.5,621.6 L316.7,620.3 L317.8,619.1 L318.9,617.8 L320.0,616.5 L321.1,615.1 L322.3,613.8 L323.4,612.4 L324.5,611.0 L325.6,609.6 L326.8,608.2 L327.9,606.7 L329.0,605.3 L330.1,603.7 L331.2,602.2 L332.4,600.7 L333.5,599.1 L334.6,597.5 L335.7,595.8 L336.9,594.1 L338.0,592.4 L339.1,590.7 L340.2,588.9 L341.3,587.1 L342.5,585.2 L343.6,583.4 L344.7,581.4 L345.8,579.5 L347.0,577.5 L348.1,575.5 L349.2,573.4 L350.3,571.3 L351.4,569.2 L352.6,567.0 L353.7,564.8 L354.8,562.6 L355.9,560.4 L357.0,558.1 L358.2,555.8 L359.3,553.5 L360.4,551.2 L361.5,548.9 L362.7,546.6 L363.8,544.3 L364.9,542.0 L366.0,539.7 L367.1,537.4 L368.3,535.2 L369.4,533.0 L370.5,530.8 L371.6,528.7 L372.8,526.7 L373.9,524.7 L375.0,522.7 L376.1,520.9 L377.2,519.1 L378.4,517.4 L379.5,515.9 L380.6,514.4 L381.7,513.1 L382.9,511.8 L384.0,510.7 L385.1,509.7 L386.2,508.9 L387.3,508.2 L388.5,507.6 L389.6,507.2 L390.7,507.0 L391.8,506.9 L393.0,506.9 L394.1,507.1 L395.2,507.5 L396.3,508.0 L397.4,508.6 L398.6,509.4 L399.7,510.3 L400.8,511.4 L401.9,512.6 L403.1,513.9 L404.2,515.4 L405.3,516.9 L406.4,518.6 L407.5,520.4 L408.7,522.3 L409.8,524.3 L410.9,526.4 L412.0,528.6 L413.1,530.8 L414.3,533.2 L415.4,535.6 L416.5,538.0 L417.6,540.5 L418.8,543.1 L419.9,545.7 L421.0,548.3 L422.1,551.0 L423.2,553.7 L424.4,556.4 L425.5,559.1 L426.6,561.8 L427.7,564.5 L428.9,567.2 L430.0,569.9 L431.1,572.6 L432.2,575.3 L433.3,577.9 L434.5,580.5 L435.6,583.1 L436.7,585.6 L437.8,588.2 L439.0,590.6 L440.1,593.1 L441.2,595.4 L442.3,597.8 L443.4,600.1 L444.6,602.3 L445.7,604.5 L446.8,606.7 L447.9,608.8 L449.1,610.8 L450.2,612.8 L451.3,614.8 L452.4,616.7 L453.5,618.5 L454.7,620.3 L455.8,622.1 L456.9,623.8 L458.0,625.4 L459.1,627.0 L460.3,628.5 L461.4,630.0 L462.5,631.5 L463.6,632.9 L464.8,634.2 L465.9,635.5 L467.0,636.8 L468.1,638.0 L469.2,639.2 L470.4,640.3 L471.5,641.4 L472.6,642.5 L473.7,643.5 L474.9,644.5 L476.0,645.4 L477.1,646.3 L478.2,647.2 L479.3,648.0 L480.5,648.9 L481.6,649.6 L482.7,650.4 L483.8,651.1 L485.0,651.8 L486.1,652.5 L487.2,653.1 L488.3,653.7 L489.4,654.3 L490.6,654.9 L491.7,655.5 L492.8,656.0 L493.9,656.5 L495.1,657.0 L496.2,657.4 L497.3,657.9 L498.4,658.3 L499.5,658.7 L500.7,659.1 L501.8,659.5 L502.9,659.9 L504.0,660.2 L505.2,660.5 L506.3,660.9 L507.4,661.2 L508.5,661.5 L509.6,661.7 L510.8,662.0 L511.9,662.3 L513.0,662.5 L514.1,662.8 L515.2,663.0 L516.4,663.2 L517.5,663.4 L518.6,663.6 L519.7,663.8 L520.9,664.0 L522.0,664.2 L523.1,664.3 L524.2,664.5 L525.3,664.6 L526.5,664.8 L527.6,664.9 L528.7,665.1 L529.8,665.2 L531.0,665.3 L532.1,665.4 L533.2,665.6 L534.3,665.7 L535.4,665.8 L536.6,665.9 L537.7,666.0 L538.8,666.1 L539.9,666.1 L541.1,666.2 L542.2,666.3 L543.3,666.4 L544.4,666.5 L545.5,666.5 L546.7,666.6 L547.8,666.7 L548.9,666.7 L550.0,666.8 L551.2,666.8 L552.3,666.9 L553.4,666.9 L554.5,667.0 L555.6,667.0 L556.8,667.1 L557.9,667.1 L559.0,667.2 L560.1,667.2 L561.3,667.3 L562.4,667.3 L563.5,667.3 L564.6,667.4 L565.7,667.4 L566.9,667.4 L568.0,667.5 L569.1,667.5 L570.2,667.5 L571.4,667.5 L572.5,667.6 L573.6,667.6 L574.7,667.6 L575.8,667.6 L577.0,667.6 L578.1,667.7 L579.2,667.7 L580.3,667.7 L581.4,667.7 L582.6,667.7 L583.7,667.7 L584.8,667.8 L585.9,667.8 L587.1,667.8 L588.2,667.8 L589.3,667.8 L590.4,667.8 L591.5,667.8 L592.7,667.9 L593.8,667.9 L594.9,667.9 L596.0,667.9 L597.2,667.9 L598.3,667.9 L599.4,667.9 L600.5,667.9 L601.6,667.9 L602.8,667.9 L603.9,667.9 L605.0,667.9 L606.1,668.0 L607.3,668.0 L608.4,668.0 L609.5,668.0 L610.6,668.0 L611.7,668.0 L612.9,668.0 L614.0,668.0 L615.1,668.0 L616.2,668.0 L617.4,668.0 L618.5,668.0 L619.6,668.0 L620.7,668.0 L621.8,668.0 L623.0,668.0 L624.1,668.0 L625.2,668.0 L626.3,668.0 L627.5,668.0 L628.6,668.0 L629.7,668.0 L630.8,668.0 L631.9,668.0 L633.1,668.0 L634.2,668.1 L635.3,668.1 L636.4,668.1 L637.5,668.1 L638.7,668.1 L639.8,668.1 L640.9,668.1 L642.0,668.1 L643.2,668.1 L644.3,668.1 L645.4,668.1 L646.5,668.1 L647.6,668.1 L648.8,668.1 L649.9,668.1 L651.0,668.1 L652.1,668.1 L653.3,668.1 L654.4,668.1 L655.5,668.1" fill="none" stroke="#4a4a4a" stroke-width="1.6" stroke-dasharray="5.5,3.5"/>
</g>
<line x1="68.5" y1="668.1" x2="72.0" y2="668.1" stroke="#222" stroke-width="1"/>
<text x="64.4" y="673.0" font-family="Liberation Serif" font-weight="bold" font-size="14.5" text-anchor="end" fill="#000" >0</text>
<line x1="70.0" y1="650.5" x2="72.0" y2="650.5" stroke="#222" stroke-width="1"/>
<line x1="68.5" y1="632.9" x2="72.0" y2="632.9" stroke="#222" stroke-width="1"/>
<text x="64.4" y="637.8" font-family="Liberation Serif" font-weight="bold" font-size="14.5" text-anchor="end" fill="#000" >10</text>
<line x1="70.0" y1="615.3" x2="72.0" y2="615.3" stroke="#222" stroke-width="1"/>
<line x1="68.5" y1="597.7" x2="72.0" y2="597.7" stroke="#222" stroke-width="1"/>
<text x="64.4" y="602.6" font-family="Liberation Serif" font-weight="bold" font-size="14.5" text-anchor="end" fill="#000" >20</text>
<line x1="70.0" y1="580.1" x2="72.0" y2="580.1" stroke="#222" stroke-width="1"/>
<line x1="68.5" y1="562.5" x2="72.0" y2="562.5" stroke="#222" stroke-width="1"/>
<text x="64.4" y="567.4" font-family="Liberation Serif" font-weight="bold" font-size="14.5" text-anchor="end" fill="#000" >30</text>
<line x1="70.0" y1="544.9" x2="72.0" y2="544.9" stroke="#222" stroke-width="1"/>
<line x1="68.5" y1="527.3" x2="72.0" y2="527.3" stroke="#222" stroke-width="1"/>
<text x="64.4" y="532.2" font-family="Liberation Serif" font-weight="bold" font-size="14.5" text-anchor="end" fill="#000" >40</text>
<line x1="70.0" y1="509.7" x2="72.0" y2="509.7" stroke="#222" stroke-width="1"/>
<line x1="68.5" y1="492.1" x2="72.0" y2="492.1" stroke="#222" stroke-width="1"/>
<text x="64.4" y="497.0" font-family="Liberation Serif" font-weight="bold" font-size="14.5" text-anchor="end" fill="#000" >50</text>
<line x1="70.0" y1="474.5" x2="72.0" y2="474.5" stroke="#222" stroke-width="1"/>
<line x1="68.5" y1="456.9" x2="72.0" y2="456.9" stroke="#222" stroke-width="1"/>
<text x="64.4" y="461.8" font-family="Liberation Serif" font-weight="bold" font-size="14.5" text-anchor="end" fill="#000" >60</text>
<line x1="70.0" y1="439.3" x2="72.0" y2="439.3" stroke="#222" stroke-width="1"/>
<line x1="75.8" y1="668.1" x2="75.8" y2="670.1" stroke="#222" stroke-width="1"/>
<line x1="94.5" y1="668.1" x2="94.5" y2="671.6" stroke="#222" stroke-width="1"/>
<text x="94.5" y="688.0" font-family="Liberation Serif" font-weight="bold" font-size="14.5" text-anchor="middle" fill="#000" >-2</text>
<line x1="113.2" y1="668.1" x2="113.2" y2="670.1" stroke="#222" stroke-width="1"/>
<line x1="131.9" y1="668.1" x2="131.9" y2="670.1" stroke="#222" stroke-width="1"/>
<line x1="150.6" y1="668.1" x2="150.6" y2="670.1" stroke="#222" stroke-width="1"/>
<line x1="169.3" y1="668.1" x2="169.3" y2="670.1" stroke="#222" stroke-width="1"/>
<line x1="188.0" y1="668.1" x2="188.0" y2="670.1" stroke="#222" stroke-width="1"/>
<line x1="206.7" y1="668.1" x2="206.7" y2="671.6" stroke="#222" stroke-width="1"/>
<text x="206.7" y="688.0" font-family="Liberation Serif" font-weight="bold" font-size="14.5" text-anchor="middle" fill="#000" >0</text>
<line x1="225.4" y1="668.1" x2="225.4" y2="670.1" stroke="#222" stroke-width="1"/>
<line x1="244.1" y1="668.1" x2="244.1" y2="670.1" stroke="#222" stroke-width="1"/>
<line x1="262.8" y1="668.1" x2="262.8" y2="670.1" stroke="#222" stroke-width="1"/>
<line x1="281.5" y1="668.1" x2="281.5" y2="670.1" stroke="#222" stroke-width="1"/>
<line x1="300.2" y1="668.1" x2="300.2" y2="670.1" stroke="#222" stroke-width="1"/>
<line x1="318.9" y1="668.1" x2="318.9" y2="671.6" stroke="#222" stroke-width="1"/>
<text x="318.9" y="688.0" font-family="Liberation Serif" font-weight="bold" font-size="14.5" text-anchor="middle" fill="#000" >2</text>
<line x1="337.6" y1="668.1" x2="337.6" y2="670.1" stroke="#222" stroke-width="1"/>
<line x1="356.3" y1="668.1" x2="356.3" y2="670.1" stroke="#222" stroke-width="1"/>
<line x1="375.0" y1="668.1" x2="375.0" y2="670.1" stroke="#222" stroke-width="1"/>
<line x1="393.7" y1="668.1" x2="393.7" y2="670.1" stroke="#222" stroke-width="1"/>
<line x1="412.4" y1="668.1" x2="412.4" y2="670.1" stroke="#222" stroke-width="1"/>
<line x1="431.1" y1="668.1" x2="431.1" y2="671.6" stroke="#222" stroke-width="1"/>
<text x="431.1" y="688.0" font-family="Liberation Serif" font-weight="bold" font-size="14.5" text-anchor="middle" fill="#000" >4</text>
<line x1="449.8" y1="668.1" x2="449.8" y2="670.1" stroke="#222" stroke-width="1"/>
<line x1="468.5" y1="668.1" x2="468.5" y2="670.1" stroke="#222" stroke-width="1"/>
<line x1="487.2" y1="668.1" x2="487.2" y2="670.1" stroke="#222" stroke-width="1"/>
<line x1="505.9" y1="668.1" x2="505.9" y2="670.1" stroke="#222" stroke-width="1"/>
<line x1="524.6" y1="668.1" x2="524.6" y2="670.1" stroke="#222" stroke-width="1"/>
<line x1="543.3" y1="668.1" x2="543.3" y2="671.6" stroke="#222" stroke-width="1"/>
<text x="543.3" y="688.0" font-family="Liberation Serif" font-weight="bold" font-size="14.5" text-anchor="middle" fill="#000" >6</text>
<line x1="562.0" y1="668.1" x2="562.0" y2="670.1" stroke="#222" stroke-width="1"/>
<line x1="580.7" y1="668.1" x2="580.7" y2="670.1" stroke="#222" stroke-width="1"/>
<line x1="599.4" y1="668.1" x2="599.4" y2="670.1" stroke="#222" stroke-width="1"/>
<line x1="618.1" y1="668.1" x2="618.1" y2="670.1" stroke="#222" stroke-width="1"/>
<line x1="636.8" y1="668.1" x2="636.8" y2="670.1" stroke="#222" stroke-width="1"/>
<line x1="655.5" y1="668.1" x2="655.5" y2="671.6" stroke="#222" stroke-width="1"/>
<text x="655.5" y="688.0" font-family="Liberation Serif" font-weight="bold" font-size="14.5" text-anchor="middle" fill="#000" >8</text>
<text x="524.3" y="458.2" font-family="Liberation Serif" font-weight="bold" font-size="13" text-anchor="start" fill="#000" textLength="123.5" lengthAdjust="spacingAndGlyphs" >Average (2018-2021)</text>
<line x1="71.2" y1="427.8" x2="94.5" y2="427.8" stroke="#555" stroke-width="1.5" stroke-dasharray="4.6,6.5"/>
<text x="98.8" y="432.7" font-family="Liberation Serif" font-weight="bold" font-size="15" text-anchor="start" fill="#000" textLength="45.5" lengthAdjust="spacingAndGlyphs" >Total <tspan font-weight="normal">β</tspan></text>
<rect x="152.1" y="422" width="24.1" height="12.2" fill="#c8fefe"/>
<text x="181.6" y="432.7" font-family="Liberation Serif" font-weight="bold" font-size="15" text-anchor="start" fill="#000" textLength="120.8" lengthAdjust="spacingAndGlyphs" >Water self-bufered</text>
<rect x="314.5" y="422" width="23.5" height="12.2" fill="#d4ecd0"/>
<text x="343.4" y="432.7" font-family="Liberation Serif" font-weight="bold" font-size="15.00" fill="#000"><tspan dy="0.00" font-size="15.00">HNO</tspan><tspan dy="3.60" font-size="10.50">3</tspan><tspan dy="-3.60" font-size="15.00">/NO</tspan><tspan dy="3.60" font-size="10.50">3</tspan><tspan dy="-10.60" font-size="10.50">-</tspan></text>
<rect x="425.2" y="422" width="23.7" height="12.2" fill="#d0e4fc"/>
<text x="454.1" y="432.7" font-family="Liberation Serif" font-weight="bold" font-size="15.00" fill="#000"><tspan dy="0.00" font-size="15.00">NH</tspan><tspan dy="3.60" font-size="10.50">4</tspan><tspan dy="-10.60" font-size="10.50">+</tspan><tspan dy="7.00" font-size="15.00">/NH</tspan><tspan dy="3.60" font-size="10.50">3</tspan></text>
<rect x="526.8" y="422" width="24" height="12.2" fill="#f9cbcb"/>
<text x="555.0" y="432.7" font-family="Liberation Serif" font-weight="bold" font-size="15.00" fill="#000"><tspan dy="0.00" font-size="15.00">HSO</tspan><tspan dy="3.60" font-size="10.50">4</tspan><tspan dy="-10.60" font-size="10.50">-</tspan><tspan dy="7.00" font-size="15.00">/SO</tspan><tspan dy="3.60" font-size="10.50">4</tspan><tspan dy="-10.60" font-size="10.50">2-</tspan></text>
<text x="-1.4" y="446.9" font-family="Liberation Serif" font-weight="bold" font-size="26" text-anchor="start" fill="#000" >d</text>
<text transform="translate(40.3,554.3) rotate(-90)" font-family="Liberation Serif" font-weight="bold" font-size="13" text-anchor="middle">Acid-Base buffering capacity <tspan font-weight="normal">β</tspan> (mol kg<tspan font-size="8.5" dy="-4.6">-1</tspan><tspan dy="4.6">)</tspan></text>
<text x="354.2" y="703.9" font-family="Liberation Serif" font-weight="bold" font-size="16" text-anchor="start" fill="#000" >pH</text>
</svg>
</body></html>
